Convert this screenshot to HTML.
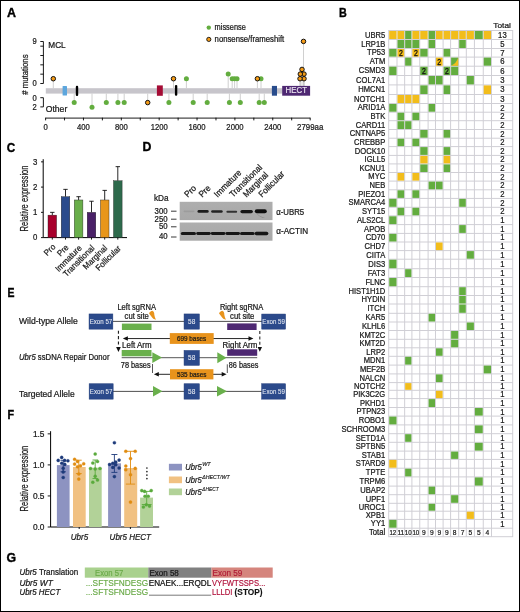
<!DOCTYPE html>
<html><head><meta charset="utf-8"><style>
html,body{margin:0;padding:0;background:#fff;}
svg{display:block;font-family:"Liberation Sans", sans-serif;will-change:transform;}
</style></head><body>
<svg width="520" height="612" viewBox="0 0 520 612">
<rect width="520" height="612" fill="#fff"/>
<text x="7.0" y="16.8" font-size="12" font-weight="bold" fill="#000" stroke="#000" stroke-width="0.35" textLength="9.0" lengthAdjust="spacingAndGlyphs">A</text>
<text x="339.0" y="16.8" font-size="12" font-weight="bold" fill="#000" stroke="#000" stroke-width="0.35" textLength="7.8" lengthAdjust="spacingAndGlyphs">B</text>
<text x="6.7" y="151.5" font-size="12" font-weight="bold" fill="#000" stroke="#000" stroke-width="0.35" textLength="8.5" lengthAdjust="spacingAndGlyphs">C</text>
<text x="142.4" y="151.3" font-size="12" font-weight="bold" fill="#000" stroke="#000" stroke-width="0.35" textLength="8.9" lengthAdjust="spacingAndGlyphs">D</text>
<text x="7.4" y="296.8" font-size="12" font-weight="bold" fill="#000" stroke="#000" stroke-width="0.35" textLength="7.0" lengthAdjust="spacingAndGlyphs">E</text>
<text x="7.4" y="418.7" font-size="12" font-weight="bold" fill="#000" stroke="#000" stroke-width="0.35" textLength="6.6" lengthAdjust="spacingAndGlyphs">F</text>
<text x="6.6" y="561.5" font-size="12" font-weight="bold" fill="#000" stroke="#000" stroke-width="0.35" textLength="9.6" lengthAdjust="spacingAndGlyphs">G</text>
<circle cx="208.8" cy="27.6" r="2.2" fill="#63AD3F"/>
<text transform="translate(214.6,30.3) scale(1,1.08)" font-size="7.6" textLength="31.2" lengthAdjust="spacingAndGlyphs" fill="#1a1a1a" stroke="#1a1a1a" stroke-width="0.22">missense</text>
<circle cx="208.8" cy="39.4" r="2.1" fill="#F49B17" stroke="#111" stroke-width="0.9"/>
<text transform="translate(214.6,41.9) scale(1,1.08)" font-size="7.6" textLength="69.6" lengthAdjust="spacingAndGlyphs" fill="#1a1a1a" stroke="#1a1a1a" stroke-width="0.22">nonsense/frameshift</text>
<line x1="43.4" y1="41.5" x2="43.4" y2="83.5" stroke="#000" stroke-width="0.9"/>
<line x1="40.3" y1="83.50" x2="43.4" y2="83.50" stroke="#000" stroke-width="0.9"/>
<line x1="40.3" y1="74.17" x2="43.4" y2="74.17" stroke="#000" stroke-width="0.9"/>
<line x1="40.3" y1="64.83" x2="43.4" y2="64.83" stroke="#000" stroke-width="0.9"/>
<line x1="40.3" y1="55.50" x2="43.4" y2="55.50" stroke="#000" stroke-width="0.9"/>
<line x1="40.3" y1="46.16" x2="43.4" y2="46.16" stroke="#000" stroke-width="0.9"/>
<line x1="40.3" y1="41.50" x2="43.4" y2="41.50" stroke="#000" stroke-width="0.9"/>
<text transform="translate(36.8,44.2) scale(1,1.08)" font-size="7.6" text-anchor="end" fill="#1a1a1a" stroke="#1a1a1a" stroke-width="0.22">9</text>
<text transform="translate(36.8,86.0) scale(1,1.08)" font-size="7.6" text-anchor="end" fill="#1a1a1a" stroke="#1a1a1a" stroke-width="0.22">0</text>
<text transform="translate(48.3,47.6) scale(1,1.08)" font-size="7.8" textLength="17.4" lengthAdjust="spacingAndGlyphs" fill="#1a1a1a" stroke="#1a1a1a" stroke-width="0.22">MCL</text>
<line x1="43.4" y1="97.7" x2="43.4" y2="106.9" stroke="#000" stroke-width="0.9"/>
<line x1="40.3" y1="97.7" x2="43.4" y2="97.7" stroke="#000" stroke-width="0.9"/>
<line x1="40.3" y1="106.9" x2="43.4" y2="106.9" stroke="#000" stroke-width="0.9"/>
<text transform="translate(36.8,100.6) scale(1,1.08)" font-size="7.6" text-anchor="end" fill="#1a1a1a" stroke="#1a1a1a" stroke-width="0.22">0</text>
<text transform="translate(36.8,109.6) scale(1,1.08)" font-size="7.6" text-anchor="end" fill="#1a1a1a" stroke="#1a1a1a" stroke-width="0.22">2</text>
<text transform="translate(45.7,112.4) scale(1,1.08)" font-size="7.8" textLength="21.6" lengthAdjust="spacingAndGlyphs" fill="#1a1a1a" stroke="#1a1a1a" stroke-width="0.22">Other</text>
<text transform="translate(28.0,74.6) rotate(-90) scale(1,1.08)" font-size="7.6" text-anchor="middle" textLength="40.4" lengthAdjust="spacingAndGlyphs" fill="#1a1a1a" stroke="#1a1a1a" stroke-width="0.22"># mutations</text>
<line x1="53.3" y1="78.73" x2="53.3" y2="88.2" stroke="#c4c4c4" stroke-width="0.8"/>
<line x1="173.5" y1="78.73" x2="173.5" y2="88.2" stroke="#c4c4c4" stroke-width="0.8"/>
<line x1="186.4" y1="78.73" x2="186.4" y2="88.2" stroke="#c4c4c4" stroke-width="0.8"/>
<line x1="228.2" y1="74.07" x2="228.2" y2="88.2" stroke="#c4c4c4" stroke-width="0.8"/>
<line x1="232.2" y1="78.73" x2="232.2" y2="88.2" stroke="#c4c4c4" stroke-width="0.8"/>
<line x1="234.6" y1="78.73" x2="234.6" y2="88.2" stroke="#c4c4c4" stroke-width="0.8"/>
<line x1="237.0" y1="78.73" x2="237.0" y2="88.2" stroke="#c4c4c4" stroke-width="0.8"/>
<line x1="261.0" y1="78.73" x2="261.0" y2="88.2" stroke="#c4c4c4" stroke-width="0.8"/>
<line x1="257.4" y1="78.73" x2="257.4" y2="88.2" stroke="#c4c4c4" stroke-width="0.8"/>
<line x1="303.5" y1="41.40" x2="303.5" y2="88.2" stroke="#c4c4c4" stroke-width="0.8"/>
<line x1="304.0" y1="74.07" x2="304.0" y2="88.2" stroke="#c4c4c4" stroke-width="0.8"/>
<line x1="304.0" y1="78.73" x2="304.0" y2="88.2" stroke="#c4c4c4" stroke-width="0.8"/>
<line x1="302.0" y1="69.40" x2="302.0" y2="88.2" stroke="#c4c4c4" stroke-width="0.8"/>
<line x1="300.3" y1="74.07" x2="300.3" y2="88.2" stroke="#c4c4c4" stroke-width="0.8"/>
<line x1="300.0" y1="78.73" x2="300.0" y2="88.2" stroke="#c4c4c4" stroke-width="0.8"/>
<line x1="74.2" y1="93.6" x2="74.2" y2="102.60" stroke="#c4c4c4" stroke-width="0.8"/>
<line x1="92.0" y1="93.6" x2="92.0" y2="107.20" stroke="#c4c4c4" stroke-width="0.8"/>
<line x1="106.3" y1="93.6" x2="106.3" y2="102.60" stroke="#c4c4c4" stroke-width="0.8"/>
<line x1="117.9" y1="93.6" x2="117.9" y2="102.60" stroke="#c4c4c4" stroke-width="0.8"/>
<line x1="124.2" y1="93.6" x2="124.2" y2="102.60" stroke="#c4c4c4" stroke-width="0.8"/>
<line x1="147.7" y1="93.6" x2="147.7" y2="102.60" stroke="#c4c4c4" stroke-width="0.8"/>
<line x1="168.9" y1="93.6" x2="168.9" y2="102.60" stroke="#c4c4c4" stroke-width="0.8"/>
<line x1="193.2" y1="93.6" x2="193.2" y2="102.60" stroke="#c4c4c4" stroke-width="0.8"/>
<line x1="207.2" y1="93.6" x2="207.2" y2="102.60" stroke="#c4c4c4" stroke-width="0.8"/>
<line x1="229.4" y1="93.6" x2="229.4" y2="102.60" stroke="#c4c4c4" stroke-width="0.8"/>
<line x1="240.3" y1="93.6" x2="240.3" y2="102.60" stroke="#c4c4c4" stroke-width="0.8"/>
<line x1="259.2" y1="93.6" x2="259.2" y2="102.60" stroke="#c4c4c4" stroke-width="0.8"/>
<line x1="264.3" y1="93.6" x2="264.3" y2="102.60" stroke="#c4c4c4" stroke-width="0.8"/>
<rect x="45.8" y="88.2" width="237" height="5.4" fill="#c7c5cb"/>
<rect x="62.6" y="86.0" width="4.4" height="9.6" fill="#5da6dd" rx="0.5"/>
<rect x="75.8" y="85.8" width="2.4" height="10.2" fill="#000" rx="1.1"/>
<rect x="156.9" y="85.4" width="5.9" height="10.4" fill="#a50c35"/>
<rect x="174.9" y="85.0" width="2.4" height="10.8" fill="#000" rx="1.1"/>
<rect x="271.9" y="85.9" width="5.1" height="9.8" fill="#284c8c"/>
<rect x="282.2" y="85.9" width="27.9" height="9.8" fill="#4e2872"/>
<text transform="translate(296.3,93.3) scale(1,1.08)" font-size="8.2" text-anchor="middle" textLength="21.4" lengthAdjust="spacingAndGlyphs" fill="#ece6f2" stroke="#ece6f2" stroke-width="0.15">HECT</text>
<circle cx="53.3" cy="78.73" r="2.25" fill="#F49B17" stroke="#111" stroke-width="1.0"/>
<circle cx="173.5" cy="78.73" r="2.25" fill="#F49B17" stroke="#111" stroke-width="1.0"/>
<circle cx="186.4" cy="78.73" r="2.5" fill="#63AD3F"/>
<circle cx="228.2" cy="74.07" r="2.5" fill="#63AD3F"/>
<circle cx="232.2" cy="78.73" r="2.5" fill="#63AD3F"/>
<circle cx="234.6" cy="78.73" r="2.5" fill="#63AD3F"/>
<circle cx="237.0" cy="78.73" r="2.5" fill="#63AD3F"/>
<circle cx="261.0" cy="78.73" r="2.5" fill="#63AD3F"/>
<circle cx="257.4" cy="78.73" r="2.25" fill="#F49B17" stroke="#111" stroke-width="1.0"/>
<circle cx="303.5" cy="41.40" r="2.25" fill="#F49B17" stroke="#111" stroke-width="1.0"/>
<circle cx="304.0" cy="74.07" r="2.25" fill="#F49B17" stroke="#111" stroke-width="1.0"/>
<circle cx="304.0" cy="78.73" r="2.25" fill="#F49B17" stroke="#111" stroke-width="1.0"/>
<circle cx="302.0" cy="69.40" r="2.25" fill="#F49B17" stroke="#111" stroke-width="1.0"/>
<circle cx="300.3" cy="74.07" r="2.25" fill="#F49B17" stroke="#111" stroke-width="1.0"/>
<circle cx="300.0" cy="78.73" r="2.25" fill="#F49B17" stroke="#111" stroke-width="1.0"/>
<circle cx="74.2" cy="102.60" r="2.5" fill="#63AD3F"/>
<circle cx="92.0" cy="107.20" r="2.5" fill="#63AD3F"/>
<circle cx="106.3" cy="102.60" r="2.5" fill="#63AD3F"/>
<circle cx="117.9" cy="102.60" r="2.5" fill="#63AD3F"/>
<circle cx="124.2" cy="102.60" r="2.5" fill="#63AD3F"/>
<circle cx="147.7" cy="102.60" r="2.25" fill="#F49B17" stroke="#111" stroke-width="1.0"/>
<circle cx="168.9" cy="102.60" r="2.5" fill="#63AD3F"/>
<circle cx="193.2" cy="102.60" r="2.5" fill="#63AD3F"/>
<circle cx="207.2" cy="102.60" r="2.5" fill="#63AD3F"/>
<circle cx="229.4" cy="102.60" r="2.5" fill="#63AD3F"/>
<circle cx="240.3" cy="102.60" r="2.5" fill="#63AD3F"/>
<circle cx="259.2" cy="102.60" r="2.5" fill="#63AD3F"/>
<circle cx="264.3" cy="102.60" r="2.5" fill="#63AD3F"/>
<line x1="45.6" y1="118.1" x2="310.2" y2="118.1" stroke="#000" stroke-width="0.9"/>
<line x1="45.60" y1="117.7" x2="45.60" y2="120.4" stroke="#000" stroke-width="0.9"/>
<line x1="64.53" y1="117.7" x2="64.53" y2="120.4" stroke="#000" stroke-width="0.9"/>
<line x1="83.46" y1="117.7" x2="83.46" y2="120.4" stroke="#000" stroke-width="0.9"/>
<line x1="102.39" y1="117.7" x2="102.39" y2="120.4" stroke="#000" stroke-width="0.9"/>
<line x1="121.32" y1="117.7" x2="121.32" y2="120.4" stroke="#000" stroke-width="0.9"/>
<line x1="140.25" y1="117.7" x2="140.25" y2="120.4" stroke="#000" stroke-width="0.9"/>
<line x1="159.18" y1="117.7" x2="159.18" y2="120.4" stroke="#000" stroke-width="0.9"/>
<line x1="178.11" y1="117.7" x2="178.11" y2="120.4" stroke="#000" stroke-width="0.9"/>
<line x1="197.04" y1="117.7" x2="197.04" y2="120.4" stroke="#000" stroke-width="0.9"/>
<line x1="215.97" y1="117.7" x2="215.97" y2="120.4" stroke="#000" stroke-width="0.9"/>
<line x1="234.90" y1="117.7" x2="234.90" y2="120.4" stroke="#000" stroke-width="0.9"/>
<line x1="253.83" y1="117.7" x2="253.83" y2="120.4" stroke="#000" stroke-width="0.9"/>
<line x1="272.76" y1="117.7" x2="272.76" y2="120.4" stroke="#000" stroke-width="0.9"/>
<line x1="291.69" y1="117.7" x2="291.69" y2="120.4" stroke="#000" stroke-width="0.9"/>
<line x1="310.2" y1="117.7" x2="310.2" y2="120.4" stroke="#000" stroke-width="0.9"/>
<text transform="translate(45.60,130.3) scale(1,1.08)" font-size="7.7" text-anchor="middle" fill="#1a1a1a" stroke="#1a1a1a" stroke-width="0.22">0</text>
<text transform="translate(83.46,130.3) scale(1,1.08)" font-size="7.7" text-anchor="middle" fill="#1a1a1a" stroke="#1a1a1a" stroke-width="0.22">400</text>
<text transform="translate(121.32,130.3) scale(1,1.08)" font-size="7.7" text-anchor="middle" fill="#1a1a1a" stroke="#1a1a1a" stroke-width="0.22">800</text>
<text transform="translate(159.18,130.3) scale(1,1.08)" font-size="7.7" text-anchor="middle" fill="#1a1a1a" stroke="#1a1a1a" stroke-width="0.22">1200</text>
<text transform="translate(197.04,130.3) scale(1,1.08)" font-size="7.7" text-anchor="middle" fill="#1a1a1a" stroke="#1a1a1a" stroke-width="0.22">1600</text>
<text transform="translate(234.90,130.3) scale(1,1.08)" font-size="7.7" text-anchor="middle" fill="#1a1a1a" stroke="#1a1a1a" stroke-width="0.22">2000</text>
<text transform="translate(272.76,130.3) scale(1,1.08)" font-size="7.7" text-anchor="middle" fill="#1a1a1a" stroke="#1a1a1a" stroke-width="0.22">2400</text>
<text transform="translate(310.2,130.3) scale(1,1.08)" font-size="7.7" text-anchor="middle" textLength="26.2" lengthAdjust="spacingAndGlyphs" fill="#1a1a1a" stroke="#1a1a1a" stroke-width="0.22">2799aa</text>
<rect x="388.2" y="30.0" width="125.00" height="507.20" fill="#d0cfd5"/>
<rect x="389.20" y="31.00" width="7.30" height="8.00" fill="#fff"/>
<rect x="397.50" y="31.00" width="6.65" height="8.00" fill="#fff"/>
<rect x="405.15" y="31.00" width="6.25" height="8.00" fill="#fff"/>
<rect x="412.40" y="31.00" width="6.85" height="8.00" fill="#fff"/>
<rect x="420.25" y="31.00" width="7.35" height="8.00" fill="#fff"/>
<rect x="428.60" y="31.00" width="6.40" height="8.00" fill="#fff"/>
<rect x="436.00" y="31.00" width="6.60" height="8.00" fill="#fff"/>
<rect x="443.60" y="31.00" width="6.50" height="8.00" fill="#fff"/>
<rect x="451.10" y="31.00" width="7.10" height="8.00" fill="#fff"/>
<rect x="459.20" y="31.00" width="6.60" height="8.00" fill="#fff"/>
<rect x="466.80" y="31.00" width="7.10" height="8.00" fill="#fff"/>
<rect x="474.90" y="31.00" width="7.85" height="8.00" fill="#fff"/>
<rect x="483.75" y="31.00" width="7.25" height="8.00" fill="#fff"/>
<rect x="492.00" y="31.00" width="20.20" height="8.00" fill="#fff"/>
<rect x="389.20" y="40.00" width="7.30" height="8.00" fill="#fff"/>
<rect x="397.50" y="40.00" width="6.65" height="8.00" fill="#fff"/>
<rect x="405.15" y="40.00" width="6.25" height="8.00" fill="#fff"/>
<rect x="412.40" y="40.00" width="6.85" height="8.00" fill="#fff"/>
<rect x="420.25" y="40.00" width="7.35" height="8.00" fill="#fff"/>
<rect x="428.60" y="40.00" width="6.40" height="8.00" fill="#fff"/>
<rect x="436.00" y="40.00" width="6.60" height="8.00" fill="#fff"/>
<rect x="443.60" y="40.00" width="6.50" height="8.00" fill="#fff"/>
<rect x="451.10" y="40.00" width="7.10" height="8.00" fill="#fff"/>
<rect x="459.20" y="40.00" width="6.60" height="8.00" fill="#fff"/>
<rect x="466.80" y="40.00" width="7.10" height="8.00" fill="#fff"/>
<rect x="474.90" y="40.00" width="7.85" height="8.00" fill="#fff"/>
<rect x="483.75" y="40.00" width="7.25" height="8.00" fill="#fff"/>
<rect x="492.00" y="40.00" width="20.20" height="8.00" fill="#fff"/>
<rect x="389.20" y="49.00" width="7.30" height="7.60" fill="#fff"/>
<rect x="397.50" y="49.00" width="6.65" height="7.60" fill="#fff"/>
<rect x="405.15" y="49.00" width="6.25" height="7.60" fill="#fff"/>
<rect x="412.40" y="49.00" width="6.85" height="7.60" fill="#fff"/>
<rect x="420.25" y="49.00" width="7.35" height="7.60" fill="#fff"/>
<rect x="428.60" y="49.00" width="6.40" height="7.60" fill="#fff"/>
<rect x="436.00" y="49.00" width="6.60" height="7.60" fill="#fff"/>
<rect x="443.60" y="49.00" width="6.50" height="7.60" fill="#fff"/>
<rect x="451.10" y="49.00" width="7.10" height="7.60" fill="#fff"/>
<rect x="459.20" y="49.00" width="6.60" height="7.60" fill="#fff"/>
<rect x="466.80" y="49.00" width="7.10" height="7.60" fill="#fff"/>
<rect x="474.90" y="49.00" width="7.85" height="7.60" fill="#fff"/>
<rect x="483.75" y="49.00" width="7.25" height="7.60" fill="#fff"/>
<rect x="492.00" y="49.00" width="20.20" height="7.60" fill="#fff"/>
<rect x="389.20" y="57.60" width="7.30" height="8.10" fill="#fff"/>
<rect x="397.50" y="57.60" width="6.65" height="8.10" fill="#fff"/>
<rect x="405.15" y="57.60" width="6.25" height="8.10" fill="#fff"/>
<rect x="412.40" y="57.60" width="6.85" height="8.10" fill="#fff"/>
<rect x="420.25" y="57.60" width="7.35" height="8.10" fill="#fff"/>
<rect x="428.60" y="57.60" width="6.40" height="8.10" fill="#fff"/>
<rect x="436.00" y="57.60" width="6.60" height="8.10" fill="#fff"/>
<rect x="443.60" y="57.60" width="6.50" height="8.10" fill="#fff"/>
<rect x="451.10" y="57.60" width="7.10" height="8.10" fill="#fff"/>
<rect x="459.20" y="57.60" width="6.60" height="8.10" fill="#fff"/>
<rect x="466.80" y="57.60" width="7.10" height="8.10" fill="#fff"/>
<rect x="474.90" y="57.60" width="7.85" height="8.10" fill="#fff"/>
<rect x="483.75" y="57.60" width="7.25" height="8.10" fill="#fff"/>
<rect x="492.00" y="57.60" width="20.20" height="8.10" fill="#fff"/>
<rect x="389.20" y="66.70" width="7.30" height="8.30" fill="#fff"/>
<rect x="397.50" y="66.70" width="6.65" height="8.30" fill="#fff"/>
<rect x="405.15" y="66.70" width="6.25" height="8.30" fill="#fff"/>
<rect x="412.40" y="66.70" width="6.85" height="8.30" fill="#fff"/>
<rect x="420.25" y="66.70" width="7.35" height="8.30" fill="#fff"/>
<rect x="428.60" y="66.70" width="6.40" height="8.30" fill="#fff"/>
<rect x="436.00" y="66.70" width="6.60" height="8.30" fill="#fff"/>
<rect x="443.60" y="66.70" width="6.50" height="8.30" fill="#fff"/>
<rect x="451.10" y="66.70" width="7.10" height="8.30" fill="#fff"/>
<rect x="459.20" y="66.70" width="6.60" height="8.30" fill="#fff"/>
<rect x="466.80" y="66.70" width="7.10" height="8.30" fill="#fff"/>
<rect x="474.90" y="66.70" width="7.85" height="8.30" fill="#fff"/>
<rect x="483.75" y="66.70" width="7.25" height="8.30" fill="#fff"/>
<rect x="492.00" y="66.70" width="20.20" height="8.30" fill="#fff"/>
<rect x="389.20" y="76.00" width="7.30" height="8.40" fill="#fff"/>
<rect x="397.50" y="76.00" width="6.65" height="8.40" fill="#fff"/>
<rect x="405.15" y="76.00" width="6.25" height="8.40" fill="#fff"/>
<rect x="412.40" y="76.00" width="6.85" height="8.40" fill="#fff"/>
<rect x="420.25" y="76.00" width="7.35" height="8.40" fill="#fff"/>
<rect x="428.60" y="76.00" width="6.40" height="8.40" fill="#fff"/>
<rect x="436.00" y="76.00" width="6.60" height="8.40" fill="#fff"/>
<rect x="443.60" y="76.00" width="6.50" height="8.40" fill="#fff"/>
<rect x="451.10" y="76.00" width="7.10" height="8.40" fill="#fff"/>
<rect x="459.20" y="76.00" width="6.60" height="8.40" fill="#fff"/>
<rect x="466.80" y="76.00" width="7.10" height="8.40" fill="#fff"/>
<rect x="474.90" y="76.00" width="7.85" height="8.40" fill="#fff"/>
<rect x="483.75" y="76.00" width="7.25" height="8.40" fill="#fff"/>
<rect x="492.00" y="76.00" width="20.20" height="8.40" fill="#fff"/>
<rect x="389.20" y="85.40" width="7.30" height="8.60" fill="#fff"/>
<rect x="397.50" y="85.40" width="6.65" height="8.60" fill="#fff"/>
<rect x="405.15" y="85.40" width="6.25" height="8.60" fill="#fff"/>
<rect x="412.40" y="85.40" width="6.85" height="8.60" fill="#fff"/>
<rect x="420.25" y="85.40" width="7.35" height="8.60" fill="#fff"/>
<rect x="428.60" y="85.40" width="6.40" height="8.60" fill="#fff"/>
<rect x="436.00" y="85.40" width="6.60" height="8.60" fill="#fff"/>
<rect x="443.60" y="85.40" width="6.50" height="8.60" fill="#fff"/>
<rect x="451.10" y="85.40" width="7.10" height="8.60" fill="#fff"/>
<rect x="459.20" y="85.40" width="6.60" height="8.60" fill="#fff"/>
<rect x="466.80" y="85.40" width="7.10" height="8.60" fill="#fff"/>
<rect x="474.90" y="85.40" width="7.85" height="8.60" fill="#fff"/>
<rect x="483.75" y="85.40" width="7.25" height="8.60" fill="#fff"/>
<rect x="492.00" y="85.40" width="20.20" height="8.60" fill="#fff"/>
<rect x="389.20" y="95.00" width="7.30" height="8.00" fill="#fff"/>
<rect x="397.50" y="95.00" width="6.65" height="8.00" fill="#fff"/>
<rect x="405.15" y="95.00" width="6.25" height="8.00" fill="#fff"/>
<rect x="412.40" y="95.00" width="6.85" height="8.00" fill="#fff"/>
<rect x="420.25" y="95.00" width="7.35" height="8.00" fill="#fff"/>
<rect x="428.60" y="95.00" width="6.40" height="8.00" fill="#fff"/>
<rect x="436.00" y="95.00" width="6.60" height="8.00" fill="#fff"/>
<rect x="443.60" y="95.00" width="6.50" height="8.00" fill="#fff"/>
<rect x="451.10" y="95.00" width="7.10" height="8.00" fill="#fff"/>
<rect x="459.20" y="95.00" width="6.60" height="8.00" fill="#fff"/>
<rect x="466.80" y="95.00" width="7.10" height="8.00" fill="#fff"/>
<rect x="474.90" y="95.00" width="7.85" height="8.00" fill="#fff"/>
<rect x="483.75" y="95.00" width="7.25" height="8.00" fill="#fff"/>
<rect x="492.00" y="95.00" width="20.20" height="8.00" fill="#fff"/>
<rect x="389.20" y="104.00" width="7.30" height="7.70" fill="#fff"/>
<rect x="397.50" y="104.00" width="6.65" height="7.70" fill="#fff"/>
<rect x="405.15" y="104.00" width="6.25" height="7.70" fill="#fff"/>
<rect x="412.40" y="104.00" width="6.85" height="7.70" fill="#fff"/>
<rect x="420.25" y="104.00" width="7.35" height="7.70" fill="#fff"/>
<rect x="428.60" y="104.00" width="6.40" height="7.70" fill="#fff"/>
<rect x="436.00" y="104.00" width="6.60" height="7.70" fill="#fff"/>
<rect x="443.60" y="104.00" width="6.50" height="7.70" fill="#fff"/>
<rect x="451.10" y="104.00" width="7.10" height="7.70" fill="#fff"/>
<rect x="459.20" y="104.00" width="6.60" height="7.70" fill="#fff"/>
<rect x="466.80" y="104.00" width="7.10" height="7.70" fill="#fff"/>
<rect x="474.90" y="104.00" width="7.85" height="7.70" fill="#fff"/>
<rect x="483.75" y="104.00" width="7.25" height="7.70" fill="#fff"/>
<rect x="492.00" y="104.00" width="20.20" height="7.70" fill="#fff"/>
<rect x="389.20" y="112.70" width="7.30" height="7.50" fill="#fff"/>
<rect x="397.50" y="112.70" width="6.65" height="7.50" fill="#fff"/>
<rect x="405.15" y="112.70" width="6.25" height="7.50" fill="#fff"/>
<rect x="412.40" y="112.70" width="6.85" height="7.50" fill="#fff"/>
<rect x="420.25" y="112.70" width="7.35" height="7.50" fill="#fff"/>
<rect x="428.60" y="112.70" width="6.40" height="7.50" fill="#fff"/>
<rect x="436.00" y="112.70" width="6.60" height="7.50" fill="#fff"/>
<rect x="443.60" y="112.70" width="6.50" height="7.50" fill="#fff"/>
<rect x="451.10" y="112.70" width="7.10" height="7.50" fill="#fff"/>
<rect x="459.20" y="112.70" width="6.60" height="7.50" fill="#fff"/>
<rect x="466.80" y="112.70" width="7.10" height="7.50" fill="#fff"/>
<rect x="474.90" y="112.70" width="7.85" height="7.50" fill="#fff"/>
<rect x="483.75" y="112.70" width="7.25" height="7.50" fill="#fff"/>
<rect x="492.00" y="112.70" width="20.20" height="7.50" fill="#fff"/>
<rect x="389.20" y="121.20" width="7.30" height="7.80" fill="#fff"/>
<rect x="397.50" y="121.20" width="6.65" height="7.80" fill="#fff"/>
<rect x="405.15" y="121.20" width="6.25" height="7.80" fill="#fff"/>
<rect x="412.40" y="121.20" width="6.85" height="7.80" fill="#fff"/>
<rect x="420.25" y="121.20" width="7.35" height="7.80" fill="#fff"/>
<rect x="428.60" y="121.20" width="6.40" height="7.80" fill="#fff"/>
<rect x="436.00" y="121.20" width="6.60" height="7.80" fill="#fff"/>
<rect x="443.60" y="121.20" width="6.50" height="7.80" fill="#fff"/>
<rect x="451.10" y="121.20" width="7.10" height="7.80" fill="#fff"/>
<rect x="459.20" y="121.20" width="6.60" height="7.80" fill="#fff"/>
<rect x="466.80" y="121.20" width="7.10" height="7.80" fill="#fff"/>
<rect x="474.90" y="121.20" width="7.85" height="7.80" fill="#fff"/>
<rect x="483.75" y="121.20" width="7.25" height="7.80" fill="#fff"/>
<rect x="492.00" y="121.20" width="20.20" height="7.80" fill="#fff"/>
<rect x="389.20" y="130.00" width="7.30" height="7.70" fill="#fff"/>
<rect x="397.50" y="130.00" width="6.65" height="7.70" fill="#fff"/>
<rect x="405.15" y="130.00" width="6.25" height="7.70" fill="#fff"/>
<rect x="412.40" y="130.00" width="6.85" height="7.70" fill="#fff"/>
<rect x="420.25" y="130.00" width="7.35" height="7.70" fill="#fff"/>
<rect x="428.60" y="130.00" width="6.40" height="7.70" fill="#fff"/>
<rect x="436.00" y="130.00" width="6.60" height="7.70" fill="#fff"/>
<rect x="443.60" y="130.00" width="6.50" height="7.70" fill="#fff"/>
<rect x="451.10" y="130.00" width="7.10" height="7.70" fill="#fff"/>
<rect x="459.20" y="130.00" width="6.60" height="7.70" fill="#fff"/>
<rect x="466.80" y="130.00" width="7.10" height="7.70" fill="#fff"/>
<rect x="474.90" y="130.00" width="7.85" height="7.70" fill="#fff"/>
<rect x="483.75" y="130.00" width="7.25" height="7.70" fill="#fff"/>
<rect x="492.00" y="130.00" width="20.20" height="7.70" fill="#fff"/>
<rect x="389.20" y="138.70" width="7.30" height="7.40" fill="#fff"/>
<rect x="397.50" y="138.70" width="6.65" height="7.40" fill="#fff"/>
<rect x="405.15" y="138.70" width="6.25" height="7.40" fill="#fff"/>
<rect x="412.40" y="138.70" width="6.85" height="7.40" fill="#fff"/>
<rect x="420.25" y="138.70" width="7.35" height="7.40" fill="#fff"/>
<rect x="428.60" y="138.70" width="6.40" height="7.40" fill="#fff"/>
<rect x="436.00" y="138.70" width="6.60" height="7.40" fill="#fff"/>
<rect x="443.60" y="138.70" width="6.50" height="7.40" fill="#fff"/>
<rect x="451.10" y="138.70" width="7.10" height="7.40" fill="#fff"/>
<rect x="459.20" y="138.70" width="6.60" height="7.40" fill="#fff"/>
<rect x="466.80" y="138.70" width="7.10" height="7.40" fill="#fff"/>
<rect x="474.90" y="138.70" width="7.85" height="7.40" fill="#fff"/>
<rect x="483.75" y="138.70" width="7.25" height="7.40" fill="#fff"/>
<rect x="492.00" y="138.70" width="20.20" height="7.40" fill="#fff"/>
<rect x="389.20" y="147.10" width="7.30" height="7.80" fill="#fff"/>
<rect x="397.50" y="147.10" width="6.65" height="7.80" fill="#fff"/>
<rect x="405.15" y="147.10" width="6.25" height="7.80" fill="#fff"/>
<rect x="412.40" y="147.10" width="6.85" height="7.80" fill="#fff"/>
<rect x="420.25" y="147.10" width="7.35" height="7.80" fill="#fff"/>
<rect x="428.60" y="147.10" width="6.40" height="7.80" fill="#fff"/>
<rect x="436.00" y="147.10" width="6.60" height="7.80" fill="#fff"/>
<rect x="443.60" y="147.10" width="6.50" height="7.80" fill="#fff"/>
<rect x="451.10" y="147.10" width="7.10" height="7.80" fill="#fff"/>
<rect x="459.20" y="147.10" width="6.60" height="7.80" fill="#fff"/>
<rect x="466.80" y="147.10" width="7.10" height="7.80" fill="#fff"/>
<rect x="474.90" y="147.10" width="7.85" height="7.80" fill="#fff"/>
<rect x="483.75" y="147.10" width="7.25" height="7.80" fill="#fff"/>
<rect x="492.00" y="147.10" width="20.20" height="7.80" fill="#fff"/>
<rect x="389.20" y="155.90" width="7.30" height="7.50" fill="#fff"/>
<rect x="397.50" y="155.90" width="6.65" height="7.50" fill="#fff"/>
<rect x="405.15" y="155.90" width="6.25" height="7.50" fill="#fff"/>
<rect x="412.40" y="155.90" width="6.85" height="7.50" fill="#fff"/>
<rect x="420.25" y="155.90" width="7.35" height="7.50" fill="#fff"/>
<rect x="428.60" y="155.90" width="6.40" height="7.50" fill="#fff"/>
<rect x="436.00" y="155.90" width="6.60" height="7.50" fill="#fff"/>
<rect x="443.60" y="155.90" width="6.50" height="7.50" fill="#fff"/>
<rect x="451.10" y="155.90" width="7.10" height="7.50" fill="#fff"/>
<rect x="459.20" y="155.90" width="6.60" height="7.50" fill="#fff"/>
<rect x="466.80" y="155.90" width="7.10" height="7.50" fill="#fff"/>
<rect x="474.90" y="155.90" width="7.85" height="7.50" fill="#fff"/>
<rect x="483.75" y="155.90" width="7.25" height="7.50" fill="#fff"/>
<rect x="492.00" y="155.90" width="20.20" height="7.50" fill="#fff"/>
<rect x="389.20" y="164.40" width="7.30" height="7.60" fill="#fff"/>
<rect x="397.50" y="164.40" width="6.65" height="7.60" fill="#fff"/>
<rect x="405.15" y="164.40" width="6.25" height="7.60" fill="#fff"/>
<rect x="412.40" y="164.40" width="6.85" height="7.60" fill="#fff"/>
<rect x="420.25" y="164.40" width="7.35" height="7.60" fill="#fff"/>
<rect x="428.60" y="164.40" width="6.40" height="7.60" fill="#fff"/>
<rect x="436.00" y="164.40" width="6.60" height="7.60" fill="#fff"/>
<rect x="443.60" y="164.40" width="6.50" height="7.60" fill="#fff"/>
<rect x="451.10" y="164.40" width="7.10" height="7.60" fill="#fff"/>
<rect x="459.20" y="164.40" width="6.60" height="7.60" fill="#fff"/>
<rect x="466.80" y="164.40" width="7.10" height="7.60" fill="#fff"/>
<rect x="474.90" y="164.40" width="7.85" height="7.60" fill="#fff"/>
<rect x="483.75" y="164.40" width="7.25" height="7.60" fill="#fff"/>
<rect x="492.00" y="164.40" width="20.20" height="7.60" fill="#fff"/>
<rect x="389.20" y="173.00" width="7.30" height="7.60" fill="#fff"/>
<rect x="397.50" y="173.00" width="6.65" height="7.60" fill="#fff"/>
<rect x="405.15" y="173.00" width="6.25" height="7.60" fill="#fff"/>
<rect x="412.40" y="173.00" width="6.85" height="7.60" fill="#fff"/>
<rect x="420.25" y="173.00" width="7.35" height="7.60" fill="#fff"/>
<rect x="428.60" y="173.00" width="6.40" height="7.60" fill="#fff"/>
<rect x="436.00" y="173.00" width="6.60" height="7.60" fill="#fff"/>
<rect x="443.60" y="173.00" width="6.50" height="7.60" fill="#fff"/>
<rect x="451.10" y="173.00" width="7.10" height="7.60" fill="#fff"/>
<rect x="459.20" y="173.00" width="6.60" height="7.60" fill="#fff"/>
<rect x="466.80" y="173.00" width="7.10" height="7.60" fill="#fff"/>
<rect x="474.90" y="173.00" width="7.85" height="7.60" fill="#fff"/>
<rect x="483.75" y="173.00" width="7.25" height="7.60" fill="#fff"/>
<rect x="492.00" y="173.00" width="20.20" height="7.60" fill="#fff"/>
<rect x="389.20" y="181.60" width="7.30" height="7.70" fill="#fff"/>
<rect x="397.50" y="181.60" width="6.65" height="7.70" fill="#fff"/>
<rect x="405.15" y="181.60" width="6.25" height="7.70" fill="#fff"/>
<rect x="412.40" y="181.60" width="6.85" height="7.70" fill="#fff"/>
<rect x="420.25" y="181.60" width="7.35" height="7.70" fill="#fff"/>
<rect x="428.60" y="181.60" width="6.40" height="7.70" fill="#fff"/>
<rect x="436.00" y="181.60" width="6.60" height="7.70" fill="#fff"/>
<rect x="443.60" y="181.60" width="6.50" height="7.70" fill="#fff"/>
<rect x="451.10" y="181.60" width="7.10" height="7.70" fill="#fff"/>
<rect x="459.20" y="181.60" width="6.60" height="7.70" fill="#fff"/>
<rect x="466.80" y="181.60" width="7.10" height="7.70" fill="#fff"/>
<rect x="474.90" y="181.60" width="7.85" height="7.70" fill="#fff"/>
<rect x="483.75" y="181.60" width="7.25" height="7.70" fill="#fff"/>
<rect x="492.00" y="181.60" width="20.20" height="7.70" fill="#fff"/>
<rect x="389.20" y="190.30" width="7.30" height="7.60" fill="#fff"/>
<rect x="397.50" y="190.30" width="6.65" height="7.60" fill="#fff"/>
<rect x="405.15" y="190.30" width="6.25" height="7.60" fill="#fff"/>
<rect x="412.40" y="190.30" width="6.85" height="7.60" fill="#fff"/>
<rect x="420.25" y="190.30" width="7.35" height="7.60" fill="#fff"/>
<rect x="428.60" y="190.30" width="6.40" height="7.60" fill="#fff"/>
<rect x="436.00" y="190.30" width="6.60" height="7.60" fill="#fff"/>
<rect x="443.60" y="190.30" width="6.50" height="7.60" fill="#fff"/>
<rect x="451.10" y="190.30" width="7.10" height="7.60" fill="#fff"/>
<rect x="459.20" y="190.30" width="6.60" height="7.60" fill="#fff"/>
<rect x="466.80" y="190.30" width="7.10" height="7.60" fill="#fff"/>
<rect x="474.90" y="190.30" width="7.85" height="7.60" fill="#fff"/>
<rect x="483.75" y="190.30" width="7.25" height="7.60" fill="#fff"/>
<rect x="492.00" y="190.30" width="20.20" height="7.60" fill="#fff"/>
<rect x="389.20" y="198.90" width="7.30" height="7.90" fill="#fff"/>
<rect x="397.50" y="198.90" width="6.65" height="7.90" fill="#fff"/>
<rect x="405.15" y="198.90" width="6.25" height="7.90" fill="#fff"/>
<rect x="412.40" y="198.90" width="6.85" height="7.90" fill="#fff"/>
<rect x="420.25" y="198.90" width="7.35" height="7.90" fill="#fff"/>
<rect x="428.60" y="198.90" width="6.40" height="7.90" fill="#fff"/>
<rect x="436.00" y="198.90" width="6.60" height="7.90" fill="#fff"/>
<rect x="443.60" y="198.90" width="6.50" height="7.90" fill="#fff"/>
<rect x="451.10" y="198.90" width="7.10" height="7.90" fill="#fff"/>
<rect x="459.20" y="198.90" width="6.60" height="7.90" fill="#fff"/>
<rect x="466.80" y="198.90" width="7.10" height="7.90" fill="#fff"/>
<rect x="474.90" y="198.90" width="7.85" height="7.90" fill="#fff"/>
<rect x="483.75" y="198.90" width="7.25" height="7.90" fill="#fff"/>
<rect x="492.00" y="198.90" width="20.20" height="7.90" fill="#fff"/>
<rect x="389.20" y="207.80" width="7.30" height="7.50" fill="#fff"/>
<rect x="397.50" y="207.80" width="6.65" height="7.50" fill="#fff"/>
<rect x="405.15" y="207.80" width="6.25" height="7.50" fill="#fff"/>
<rect x="412.40" y="207.80" width="6.85" height="7.50" fill="#fff"/>
<rect x="420.25" y="207.80" width="7.35" height="7.50" fill="#fff"/>
<rect x="428.60" y="207.80" width="6.40" height="7.50" fill="#fff"/>
<rect x="436.00" y="207.80" width="6.60" height="7.50" fill="#fff"/>
<rect x="443.60" y="207.80" width="6.50" height="7.50" fill="#fff"/>
<rect x="451.10" y="207.80" width="7.10" height="7.50" fill="#fff"/>
<rect x="459.20" y="207.80" width="6.60" height="7.50" fill="#fff"/>
<rect x="466.80" y="207.80" width="7.10" height="7.50" fill="#fff"/>
<rect x="474.90" y="207.80" width="7.85" height="7.50" fill="#fff"/>
<rect x="483.75" y="207.80" width="7.25" height="7.50" fill="#fff"/>
<rect x="492.00" y="207.80" width="20.20" height="7.50" fill="#fff"/>
<rect x="389.20" y="216.30" width="7.30" height="7.80" fill="#fff"/>
<rect x="397.50" y="216.30" width="6.65" height="7.80" fill="#fff"/>
<rect x="405.15" y="216.30" width="6.25" height="7.80" fill="#fff"/>
<rect x="412.40" y="216.30" width="6.85" height="7.80" fill="#fff"/>
<rect x="420.25" y="216.30" width="7.35" height="7.80" fill="#fff"/>
<rect x="428.60" y="216.30" width="6.40" height="7.80" fill="#fff"/>
<rect x="436.00" y="216.30" width="6.60" height="7.80" fill="#fff"/>
<rect x="443.60" y="216.30" width="6.50" height="7.80" fill="#fff"/>
<rect x="451.10" y="216.30" width="7.10" height="7.80" fill="#fff"/>
<rect x="459.20" y="216.30" width="6.60" height="7.80" fill="#fff"/>
<rect x="466.80" y="216.30" width="7.10" height="7.80" fill="#fff"/>
<rect x="474.90" y="216.30" width="7.85" height="7.80" fill="#fff"/>
<rect x="483.75" y="216.30" width="7.25" height="7.80" fill="#fff"/>
<rect x="492.00" y="216.30" width="20.20" height="7.80" fill="#fff"/>
<rect x="389.20" y="225.10" width="7.30" height="7.80" fill="#fff"/>
<rect x="397.50" y="225.10" width="6.65" height="7.80" fill="#fff"/>
<rect x="405.15" y="225.10" width="6.25" height="7.80" fill="#fff"/>
<rect x="412.40" y="225.10" width="6.85" height="7.80" fill="#fff"/>
<rect x="420.25" y="225.10" width="7.35" height="7.80" fill="#fff"/>
<rect x="428.60" y="225.10" width="6.40" height="7.80" fill="#fff"/>
<rect x="436.00" y="225.10" width="6.60" height="7.80" fill="#fff"/>
<rect x="443.60" y="225.10" width="6.50" height="7.80" fill="#fff"/>
<rect x="451.10" y="225.10" width="7.10" height="7.80" fill="#fff"/>
<rect x="459.20" y="225.10" width="6.60" height="7.80" fill="#fff"/>
<rect x="466.80" y="225.10" width="7.10" height="7.80" fill="#fff"/>
<rect x="474.90" y="225.10" width="7.85" height="7.80" fill="#fff"/>
<rect x="483.75" y="225.10" width="7.25" height="7.80" fill="#fff"/>
<rect x="492.00" y="225.10" width="20.20" height="7.80" fill="#fff"/>
<rect x="389.20" y="233.90" width="7.30" height="7.60" fill="#fff"/>
<rect x="397.50" y="233.90" width="6.65" height="7.60" fill="#fff"/>
<rect x="405.15" y="233.90" width="6.25" height="7.60" fill="#fff"/>
<rect x="412.40" y="233.90" width="6.85" height="7.60" fill="#fff"/>
<rect x="420.25" y="233.90" width="7.35" height="7.60" fill="#fff"/>
<rect x="428.60" y="233.90" width="6.40" height="7.60" fill="#fff"/>
<rect x="436.00" y="233.90" width="6.60" height="7.60" fill="#fff"/>
<rect x="443.60" y="233.90" width="6.50" height="7.60" fill="#fff"/>
<rect x="451.10" y="233.90" width="7.10" height="7.60" fill="#fff"/>
<rect x="459.20" y="233.90" width="6.60" height="7.60" fill="#fff"/>
<rect x="466.80" y="233.90" width="7.10" height="7.60" fill="#fff"/>
<rect x="474.90" y="233.90" width="7.85" height="7.60" fill="#fff"/>
<rect x="483.75" y="233.90" width="7.25" height="7.60" fill="#fff"/>
<rect x="492.00" y="233.90" width="20.20" height="7.60" fill="#fff"/>
<rect x="389.20" y="242.50" width="7.30" height="7.60" fill="#fff"/>
<rect x="397.50" y="242.50" width="6.65" height="7.60" fill="#fff"/>
<rect x="405.15" y="242.50" width="6.25" height="7.60" fill="#fff"/>
<rect x="412.40" y="242.50" width="6.85" height="7.60" fill="#fff"/>
<rect x="420.25" y="242.50" width="7.35" height="7.60" fill="#fff"/>
<rect x="428.60" y="242.50" width="6.40" height="7.60" fill="#fff"/>
<rect x="436.00" y="242.50" width="6.60" height="7.60" fill="#fff"/>
<rect x="443.60" y="242.50" width="6.50" height="7.60" fill="#fff"/>
<rect x="451.10" y="242.50" width="7.10" height="7.60" fill="#fff"/>
<rect x="459.20" y="242.50" width="6.60" height="7.60" fill="#fff"/>
<rect x="466.80" y="242.50" width="7.10" height="7.60" fill="#fff"/>
<rect x="474.90" y="242.50" width="7.85" height="7.60" fill="#fff"/>
<rect x="483.75" y="242.50" width="7.25" height="7.60" fill="#fff"/>
<rect x="492.00" y="242.50" width="20.20" height="7.60" fill="#fff"/>
<rect x="389.20" y="251.10" width="7.30" height="7.60" fill="#fff"/>
<rect x="397.50" y="251.10" width="6.65" height="7.60" fill="#fff"/>
<rect x="405.15" y="251.10" width="6.25" height="7.60" fill="#fff"/>
<rect x="412.40" y="251.10" width="6.85" height="7.60" fill="#fff"/>
<rect x="420.25" y="251.10" width="7.35" height="7.60" fill="#fff"/>
<rect x="428.60" y="251.10" width="6.40" height="7.60" fill="#fff"/>
<rect x="436.00" y="251.10" width="6.60" height="7.60" fill="#fff"/>
<rect x="443.60" y="251.10" width="6.50" height="7.60" fill="#fff"/>
<rect x="451.10" y="251.10" width="7.10" height="7.60" fill="#fff"/>
<rect x="459.20" y="251.10" width="6.60" height="7.60" fill="#fff"/>
<rect x="466.80" y="251.10" width="7.10" height="7.60" fill="#fff"/>
<rect x="474.90" y="251.10" width="7.85" height="7.60" fill="#fff"/>
<rect x="483.75" y="251.10" width="7.25" height="7.60" fill="#fff"/>
<rect x="492.00" y="251.10" width="20.20" height="7.60" fill="#fff"/>
<rect x="389.20" y="259.70" width="7.30" height="8.50" fill="#fff"/>
<rect x="397.50" y="259.70" width="6.65" height="8.50" fill="#fff"/>
<rect x="405.15" y="259.70" width="6.25" height="8.50" fill="#fff"/>
<rect x="412.40" y="259.70" width="6.85" height="8.50" fill="#fff"/>
<rect x="420.25" y="259.70" width="7.35" height="8.50" fill="#fff"/>
<rect x="428.60" y="259.70" width="6.40" height="8.50" fill="#fff"/>
<rect x="436.00" y="259.70" width="6.60" height="8.50" fill="#fff"/>
<rect x="443.60" y="259.70" width="6.50" height="8.50" fill="#fff"/>
<rect x="451.10" y="259.70" width="7.10" height="8.50" fill="#fff"/>
<rect x="459.20" y="259.70" width="6.60" height="8.50" fill="#fff"/>
<rect x="466.80" y="259.70" width="7.10" height="8.50" fill="#fff"/>
<rect x="474.90" y="259.70" width="7.85" height="8.50" fill="#fff"/>
<rect x="483.75" y="259.70" width="7.25" height="8.50" fill="#fff"/>
<rect x="492.00" y="259.70" width="20.20" height="8.50" fill="#fff"/>
<rect x="389.20" y="269.20" width="7.30" height="7.80" fill="#fff"/>
<rect x="397.50" y="269.20" width="6.65" height="7.80" fill="#fff"/>
<rect x="405.15" y="269.20" width="6.25" height="7.80" fill="#fff"/>
<rect x="412.40" y="269.20" width="6.85" height="7.80" fill="#fff"/>
<rect x="420.25" y="269.20" width="7.35" height="7.80" fill="#fff"/>
<rect x="428.60" y="269.20" width="6.40" height="7.80" fill="#fff"/>
<rect x="436.00" y="269.20" width="6.60" height="7.80" fill="#fff"/>
<rect x="443.60" y="269.20" width="6.50" height="7.80" fill="#fff"/>
<rect x="451.10" y="269.20" width="7.10" height="7.80" fill="#fff"/>
<rect x="459.20" y="269.20" width="6.60" height="7.80" fill="#fff"/>
<rect x="466.80" y="269.20" width="7.10" height="7.80" fill="#fff"/>
<rect x="474.90" y="269.20" width="7.85" height="7.80" fill="#fff"/>
<rect x="483.75" y="269.20" width="7.25" height="7.80" fill="#fff"/>
<rect x="492.00" y="269.20" width="20.20" height="7.80" fill="#fff"/>
<rect x="389.20" y="278.00" width="7.30" height="8.20" fill="#fff"/>
<rect x="397.50" y="278.00" width="6.65" height="8.20" fill="#fff"/>
<rect x="405.15" y="278.00" width="6.25" height="8.20" fill="#fff"/>
<rect x="412.40" y="278.00" width="6.85" height="8.20" fill="#fff"/>
<rect x="420.25" y="278.00" width="7.35" height="8.20" fill="#fff"/>
<rect x="428.60" y="278.00" width="6.40" height="8.20" fill="#fff"/>
<rect x="436.00" y="278.00" width="6.60" height="8.20" fill="#fff"/>
<rect x="443.60" y="278.00" width="6.50" height="8.20" fill="#fff"/>
<rect x="451.10" y="278.00" width="7.10" height="8.20" fill="#fff"/>
<rect x="459.20" y="278.00" width="6.60" height="8.20" fill="#fff"/>
<rect x="466.80" y="278.00" width="7.10" height="8.20" fill="#fff"/>
<rect x="474.90" y="278.00" width="7.85" height="8.20" fill="#fff"/>
<rect x="483.75" y="278.00" width="7.25" height="8.20" fill="#fff"/>
<rect x="492.00" y="278.00" width="20.20" height="8.20" fill="#fff"/>
<rect x="389.20" y="287.20" width="7.30" height="7.80" fill="#fff"/>
<rect x="397.50" y="287.20" width="6.65" height="7.80" fill="#fff"/>
<rect x="405.15" y="287.20" width="6.25" height="7.80" fill="#fff"/>
<rect x="412.40" y="287.20" width="6.85" height="7.80" fill="#fff"/>
<rect x="420.25" y="287.20" width="7.35" height="7.80" fill="#fff"/>
<rect x="428.60" y="287.20" width="6.40" height="7.80" fill="#fff"/>
<rect x="436.00" y="287.20" width="6.60" height="7.80" fill="#fff"/>
<rect x="443.60" y="287.20" width="6.50" height="7.80" fill="#fff"/>
<rect x="451.10" y="287.20" width="7.10" height="7.80" fill="#fff"/>
<rect x="459.20" y="287.20" width="6.60" height="7.80" fill="#fff"/>
<rect x="466.80" y="287.20" width="7.10" height="7.80" fill="#fff"/>
<rect x="474.90" y="287.20" width="7.85" height="7.80" fill="#fff"/>
<rect x="483.75" y="287.20" width="7.25" height="7.80" fill="#fff"/>
<rect x="492.00" y="287.20" width="20.20" height="7.80" fill="#fff"/>
<rect x="389.20" y="296.00" width="7.30" height="7.50" fill="#fff"/>
<rect x="397.50" y="296.00" width="6.65" height="7.50" fill="#fff"/>
<rect x="405.15" y="296.00" width="6.25" height="7.50" fill="#fff"/>
<rect x="412.40" y="296.00" width="6.85" height="7.50" fill="#fff"/>
<rect x="420.25" y="296.00" width="7.35" height="7.50" fill="#fff"/>
<rect x="428.60" y="296.00" width="6.40" height="7.50" fill="#fff"/>
<rect x="436.00" y="296.00" width="6.60" height="7.50" fill="#fff"/>
<rect x="443.60" y="296.00" width="6.50" height="7.50" fill="#fff"/>
<rect x="451.10" y="296.00" width="7.10" height="7.50" fill="#fff"/>
<rect x="459.20" y="296.00" width="6.60" height="7.50" fill="#fff"/>
<rect x="466.80" y="296.00" width="7.10" height="7.50" fill="#fff"/>
<rect x="474.90" y="296.00" width="7.85" height="7.50" fill="#fff"/>
<rect x="483.75" y="296.00" width="7.25" height="7.50" fill="#fff"/>
<rect x="492.00" y="296.00" width="20.20" height="7.50" fill="#fff"/>
<rect x="389.20" y="304.50" width="7.30" height="8.30" fill="#fff"/>
<rect x="397.50" y="304.50" width="6.65" height="8.30" fill="#fff"/>
<rect x="405.15" y="304.50" width="6.25" height="8.30" fill="#fff"/>
<rect x="412.40" y="304.50" width="6.85" height="8.30" fill="#fff"/>
<rect x="420.25" y="304.50" width="7.35" height="8.30" fill="#fff"/>
<rect x="428.60" y="304.50" width="6.40" height="8.30" fill="#fff"/>
<rect x="436.00" y="304.50" width="6.60" height="8.30" fill="#fff"/>
<rect x="443.60" y="304.50" width="6.50" height="8.30" fill="#fff"/>
<rect x="451.10" y="304.50" width="7.10" height="8.30" fill="#fff"/>
<rect x="459.20" y="304.50" width="6.60" height="8.30" fill="#fff"/>
<rect x="466.80" y="304.50" width="7.10" height="8.30" fill="#fff"/>
<rect x="474.90" y="304.50" width="7.85" height="8.30" fill="#fff"/>
<rect x="483.75" y="304.50" width="7.25" height="8.30" fill="#fff"/>
<rect x="492.00" y="304.50" width="20.20" height="8.30" fill="#fff"/>
<rect x="389.20" y="313.80" width="7.30" height="7.70" fill="#fff"/>
<rect x="397.50" y="313.80" width="6.65" height="7.70" fill="#fff"/>
<rect x="405.15" y="313.80" width="6.25" height="7.70" fill="#fff"/>
<rect x="412.40" y="313.80" width="6.85" height="7.70" fill="#fff"/>
<rect x="420.25" y="313.80" width="7.35" height="7.70" fill="#fff"/>
<rect x="428.60" y="313.80" width="6.40" height="7.70" fill="#fff"/>
<rect x="436.00" y="313.80" width="6.60" height="7.70" fill="#fff"/>
<rect x="443.60" y="313.80" width="6.50" height="7.70" fill="#fff"/>
<rect x="451.10" y="313.80" width="7.10" height="7.70" fill="#fff"/>
<rect x="459.20" y="313.80" width="6.60" height="7.70" fill="#fff"/>
<rect x="466.80" y="313.80" width="7.10" height="7.70" fill="#fff"/>
<rect x="474.90" y="313.80" width="7.85" height="7.70" fill="#fff"/>
<rect x="483.75" y="313.80" width="7.25" height="7.70" fill="#fff"/>
<rect x="492.00" y="313.80" width="20.20" height="7.70" fill="#fff"/>
<rect x="389.20" y="322.50" width="7.30" height="7.50" fill="#fff"/>
<rect x="397.50" y="322.50" width="6.65" height="7.50" fill="#fff"/>
<rect x="405.15" y="322.50" width="6.25" height="7.50" fill="#fff"/>
<rect x="412.40" y="322.50" width="6.85" height="7.50" fill="#fff"/>
<rect x="420.25" y="322.50" width="7.35" height="7.50" fill="#fff"/>
<rect x="428.60" y="322.50" width="6.40" height="7.50" fill="#fff"/>
<rect x="436.00" y="322.50" width="6.60" height="7.50" fill="#fff"/>
<rect x="443.60" y="322.50" width="6.50" height="7.50" fill="#fff"/>
<rect x="451.10" y="322.50" width="7.10" height="7.50" fill="#fff"/>
<rect x="459.20" y="322.50" width="6.60" height="7.50" fill="#fff"/>
<rect x="466.80" y="322.50" width="7.10" height="7.50" fill="#fff"/>
<rect x="474.90" y="322.50" width="7.85" height="7.50" fill="#fff"/>
<rect x="483.75" y="322.50" width="7.25" height="7.50" fill="#fff"/>
<rect x="492.00" y="322.50" width="20.20" height="7.50" fill="#fff"/>
<rect x="389.20" y="331.00" width="7.30" height="7.80" fill="#fff"/>
<rect x="397.50" y="331.00" width="6.65" height="7.80" fill="#fff"/>
<rect x="405.15" y="331.00" width="6.25" height="7.80" fill="#fff"/>
<rect x="412.40" y="331.00" width="6.85" height="7.80" fill="#fff"/>
<rect x="420.25" y="331.00" width="7.35" height="7.80" fill="#fff"/>
<rect x="428.60" y="331.00" width="6.40" height="7.80" fill="#fff"/>
<rect x="436.00" y="331.00" width="6.60" height="7.80" fill="#fff"/>
<rect x="443.60" y="331.00" width="6.50" height="7.80" fill="#fff"/>
<rect x="451.10" y="331.00" width="7.10" height="7.80" fill="#fff"/>
<rect x="459.20" y="331.00" width="6.60" height="7.80" fill="#fff"/>
<rect x="466.80" y="331.00" width="7.10" height="7.80" fill="#fff"/>
<rect x="474.90" y="331.00" width="7.85" height="7.80" fill="#fff"/>
<rect x="483.75" y="331.00" width="7.25" height="7.80" fill="#fff"/>
<rect x="492.00" y="331.00" width="20.20" height="7.80" fill="#fff"/>
<rect x="389.20" y="339.80" width="7.30" height="7.50" fill="#fff"/>
<rect x="397.50" y="339.80" width="6.65" height="7.50" fill="#fff"/>
<rect x="405.15" y="339.80" width="6.25" height="7.50" fill="#fff"/>
<rect x="412.40" y="339.80" width="6.85" height="7.50" fill="#fff"/>
<rect x="420.25" y="339.80" width="7.35" height="7.50" fill="#fff"/>
<rect x="428.60" y="339.80" width="6.40" height="7.50" fill="#fff"/>
<rect x="436.00" y="339.80" width="6.60" height="7.50" fill="#fff"/>
<rect x="443.60" y="339.80" width="6.50" height="7.50" fill="#fff"/>
<rect x="451.10" y="339.80" width="7.10" height="7.50" fill="#fff"/>
<rect x="459.20" y="339.80" width="6.60" height="7.50" fill="#fff"/>
<rect x="466.80" y="339.80" width="7.10" height="7.50" fill="#fff"/>
<rect x="474.90" y="339.80" width="7.85" height="7.50" fill="#fff"/>
<rect x="483.75" y="339.80" width="7.25" height="7.50" fill="#fff"/>
<rect x="492.00" y="339.80" width="20.20" height="7.50" fill="#fff"/>
<rect x="389.20" y="348.30" width="7.30" height="7.50" fill="#fff"/>
<rect x="397.50" y="348.30" width="6.65" height="7.50" fill="#fff"/>
<rect x="405.15" y="348.30" width="6.25" height="7.50" fill="#fff"/>
<rect x="412.40" y="348.30" width="6.85" height="7.50" fill="#fff"/>
<rect x="420.25" y="348.30" width="7.35" height="7.50" fill="#fff"/>
<rect x="428.60" y="348.30" width="6.40" height="7.50" fill="#fff"/>
<rect x="436.00" y="348.30" width="6.60" height="7.50" fill="#fff"/>
<rect x="443.60" y="348.30" width="6.50" height="7.50" fill="#fff"/>
<rect x="451.10" y="348.30" width="7.10" height="7.50" fill="#fff"/>
<rect x="459.20" y="348.30" width="6.60" height="7.50" fill="#fff"/>
<rect x="466.80" y="348.30" width="7.10" height="7.50" fill="#fff"/>
<rect x="474.90" y="348.30" width="7.85" height="7.50" fill="#fff"/>
<rect x="483.75" y="348.30" width="7.25" height="7.50" fill="#fff"/>
<rect x="492.00" y="348.30" width="20.20" height="7.50" fill="#fff"/>
<rect x="389.20" y="356.80" width="7.30" height="7.80" fill="#fff"/>
<rect x="397.50" y="356.80" width="6.65" height="7.80" fill="#fff"/>
<rect x="405.15" y="356.80" width="6.25" height="7.80" fill="#fff"/>
<rect x="412.40" y="356.80" width="6.85" height="7.80" fill="#fff"/>
<rect x="420.25" y="356.80" width="7.35" height="7.80" fill="#fff"/>
<rect x="428.60" y="356.80" width="6.40" height="7.80" fill="#fff"/>
<rect x="436.00" y="356.80" width="6.60" height="7.80" fill="#fff"/>
<rect x="443.60" y="356.80" width="6.50" height="7.80" fill="#fff"/>
<rect x="451.10" y="356.80" width="7.10" height="7.80" fill="#fff"/>
<rect x="459.20" y="356.80" width="6.60" height="7.80" fill="#fff"/>
<rect x="466.80" y="356.80" width="7.10" height="7.80" fill="#fff"/>
<rect x="474.90" y="356.80" width="7.85" height="7.80" fill="#fff"/>
<rect x="483.75" y="356.80" width="7.25" height="7.80" fill="#fff"/>
<rect x="492.00" y="356.80" width="20.20" height="7.80" fill="#fff"/>
<rect x="389.20" y="365.60" width="7.30" height="7.80" fill="#fff"/>
<rect x="397.50" y="365.60" width="6.65" height="7.80" fill="#fff"/>
<rect x="405.15" y="365.60" width="6.25" height="7.80" fill="#fff"/>
<rect x="412.40" y="365.60" width="6.85" height="7.80" fill="#fff"/>
<rect x="420.25" y="365.60" width="7.35" height="7.80" fill="#fff"/>
<rect x="428.60" y="365.60" width="6.40" height="7.80" fill="#fff"/>
<rect x="436.00" y="365.60" width="6.60" height="7.80" fill="#fff"/>
<rect x="443.60" y="365.60" width="6.50" height="7.80" fill="#fff"/>
<rect x="451.10" y="365.60" width="7.10" height="7.80" fill="#fff"/>
<rect x="459.20" y="365.60" width="6.60" height="7.80" fill="#fff"/>
<rect x="466.80" y="365.60" width="7.10" height="7.80" fill="#fff"/>
<rect x="474.90" y="365.60" width="7.85" height="7.80" fill="#fff"/>
<rect x="483.75" y="365.60" width="7.25" height="7.80" fill="#fff"/>
<rect x="492.00" y="365.60" width="20.20" height="7.80" fill="#fff"/>
<rect x="389.20" y="374.40" width="7.30" height="7.70" fill="#fff"/>
<rect x="397.50" y="374.40" width="6.65" height="7.70" fill="#fff"/>
<rect x="405.15" y="374.40" width="6.25" height="7.70" fill="#fff"/>
<rect x="412.40" y="374.40" width="6.85" height="7.70" fill="#fff"/>
<rect x="420.25" y="374.40" width="7.35" height="7.70" fill="#fff"/>
<rect x="428.60" y="374.40" width="6.40" height="7.70" fill="#fff"/>
<rect x="436.00" y="374.40" width="6.60" height="7.70" fill="#fff"/>
<rect x="443.60" y="374.40" width="6.50" height="7.70" fill="#fff"/>
<rect x="451.10" y="374.40" width="7.10" height="7.70" fill="#fff"/>
<rect x="459.20" y="374.40" width="6.60" height="7.70" fill="#fff"/>
<rect x="466.80" y="374.40" width="7.10" height="7.70" fill="#fff"/>
<rect x="474.90" y="374.40" width="7.85" height="7.70" fill="#fff"/>
<rect x="483.75" y="374.40" width="7.25" height="7.70" fill="#fff"/>
<rect x="492.00" y="374.40" width="20.20" height="7.70" fill="#fff"/>
<rect x="389.20" y="383.10" width="7.30" height="6.70" fill="#fff"/>
<rect x="397.50" y="383.10" width="6.65" height="6.70" fill="#fff"/>
<rect x="405.15" y="383.10" width="6.25" height="6.70" fill="#fff"/>
<rect x="412.40" y="383.10" width="6.85" height="6.70" fill="#fff"/>
<rect x="420.25" y="383.10" width="7.35" height="6.70" fill="#fff"/>
<rect x="428.60" y="383.10" width="6.40" height="6.70" fill="#fff"/>
<rect x="436.00" y="383.10" width="6.60" height="6.70" fill="#fff"/>
<rect x="443.60" y="383.10" width="6.50" height="6.70" fill="#fff"/>
<rect x="451.10" y="383.10" width="7.10" height="6.70" fill="#fff"/>
<rect x="459.20" y="383.10" width="6.60" height="6.70" fill="#fff"/>
<rect x="466.80" y="383.10" width="7.10" height="6.70" fill="#fff"/>
<rect x="474.90" y="383.10" width="7.85" height="6.70" fill="#fff"/>
<rect x="483.75" y="383.10" width="7.25" height="6.70" fill="#fff"/>
<rect x="492.00" y="383.10" width="20.20" height="6.70" fill="#fff"/>
<rect x="389.20" y="390.80" width="7.30" height="7.30" fill="#fff"/>
<rect x="397.50" y="390.80" width="6.65" height="7.30" fill="#fff"/>
<rect x="405.15" y="390.80" width="6.25" height="7.30" fill="#fff"/>
<rect x="412.40" y="390.80" width="6.85" height="7.30" fill="#fff"/>
<rect x="420.25" y="390.80" width="7.35" height="7.30" fill="#fff"/>
<rect x="428.60" y="390.80" width="6.40" height="7.30" fill="#fff"/>
<rect x="436.00" y="390.80" width="6.60" height="7.30" fill="#fff"/>
<rect x="443.60" y="390.80" width="6.50" height="7.30" fill="#fff"/>
<rect x="451.10" y="390.80" width="7.10" height="7.30" fill="#fff"/>
<rect x="459.20" y="390.80" width="6.60" height="7.30" fill="#fff"/>
<rect x="466.80" y="390.80" width="7.10" height="7.30" fill="#fff"/>
<rect x="474.90" y="390.80" width="7.85" height="7.30" fill="#fff"/>
<rect x="483.75" y="390.80" width="7.25" height="7.30" fill="#fff"/>
<rect x="492.00" y="390.80" width="20.20" height="7.30" fill="#fff"/>
<rect x="389.20" y="399.10" width="7.30" height="7.90" fill="#fff"/>
<rect x="397.50" y="399.10" width="6.65" height="7.90" fill="#fff"/>
<rect x="405.15" y="399.10" width="6.25" height="7.90" fill="#fff"/>
<rect x="412.40" y="399.10" width="6.85" height="7.90" fill="#fff"/>
<rect x="420.25" y="399.10" width="7.35" height="7.90" fill="#fff"/>
<rect x="428.60" y="399.10" width="6.40" height="7.90" fill="#fff"/>
<rect x="436.00" y="399.10" width="6.60" height="7.90" fill="#fff"/>
<rect x="443.60" y="399.10" width="6.50" height="7.90" fill="#fff"/>
<rect x="451.10" y="399.10" width="7.10" height="7.90" fill="#fff"/>
<rect x="459.20" y="399.10" width="6.60" height="7.90" fill="#fff"/>
<rect x="466.80" y="399.10" width="7.10" height="7.90" fill="#fff"/>
<rect x="474.90" y="399.10" width="7.85" height="7.90" fill="#fff"/>
<rect x="483.75" y="399.10" width="7.25" height="7.90" fill="#fff"/>
<rect x="492.00" y="399.10" width="20.20" height="7.90" fill="#fff"/>
<rect x="389.20" y="408.00" width="7.30" height="7.60" fill="#fff"/>
<rect x="397.50" y="408.00" width="6.65" height="7.60" fill="#fff"/>
<rect x="405.15" y="408.00" width="6.25" height="7.60" fill="#fff"/>
<rect x="412.40" y="408.00" width="6.85" height="7.60" fill="#fff"/>
<rect x="420.25" y="408.00" width="7.35" height="7.60" fill="#fff"/>
<rect x="428.60" y="408.00" width="6.40" height="7.60" fill="#fff"/>
<rect x="436.00" y="408.00" width="6.60" height="7.60" fill="#fff"/>
<rect x="443.60" y="408.00" width="6.50" height="7.60" fill="#fff"/>
<rect x="451.10" y="408.00" width="7.10" height="7.60" fill="#fff"/>
<rect x="459.20" y="408.00" width="6.60" height="7.60" fill="#fff"/>
<rect x="466.80" y="408.00" width="7.10" height="7.60" fill="#fff"/>
<rect x="474.90" y="408.00" width="7.85" height="7.60" fill="#fff"/>
<rect x="483.75" y="408.00" width="7.25" height="7.60" fill="#fff"/>
<rect x="492.00" y="408.00" width="20.20" height="7.60" fill="#fff"/>
<rect x="389.20" y="416.60" width="7.30" height="7.80" fill="#fff"/>
<rect x="397.50" y="416.60" width="6.65" height="7.80" fill="#fff"/>
<rect x="405.15" y="416.60" width="6.25" height="7.80" fill="#fff"/>
<rect x="412.40" y="416.60" width="6.85" height="7.80" fill="#fff"/>
<rect x="420.25" y="416.60" width="7.35" height="7.80" fill="#fff"/>
<rect x="428.60" y="416.60" width="6.40" height="7.80" fill="#fff"/>
<rect x="436.00" y="416.60" width="6.60" height="7.80" fill="#fff"/>
<rect x="443.60" y="416.60" width="6.50" height="7.80" fill="#fff"/>
<rect x="451.10" y="416.60" width="7.10" height="7.80" fill="#fff"/>
<rect x="459.20" y="416.60" width="6.60" height="7.80" fill="#fff"/>
<rect x="466.80" y="416.60" width="7.10" height="7.80" fill="#fff"/>
<rect x="474.90" y="416.60" width="7.85" height="7.80" fill="#fff"/>
<rect x="483.75" y="416.60" width="7.25" height="7.80" fill="#fff"/>
<rect x="492.00" y="416.60" width="20.20" height="7.80" fill="#fff"/>
<rect x="389.20" y="425.40" width="7.30" height="7.80" fill="#fff"/>
<rect x="397.50" y="425.40" width="6.65" height="7.80" fill="#fff"/>
<rect x="405.15" y="425.40" width="6.25" height="7.80" fill="#fff"/>
<rect x="412.40" y="425.40" width="6.85" height="7.80" fill="#fff"/>
<rect x="420.25" y="425.40" width="7.35" height="7.80" fill="#fff"/>
<rect x="428.60" y="425.40" width="6.40" height="7.80" fill="#fff"/>
<rect x="436.00" y="425.40" width="6.60" height="7.80" fill="#fff"/>
<rect x="443.60" y="425.40" width="6.50" height="7.80" fill="#fff"/>
<rect x="451.10" y="425.40" width="7.10" height="7.80" fill="#fff"/>
<rect x="459.20" y="425.40" width="6.60" height="7.80" fill="#fff"/>
<rect x="466.80" y="425.40" width="7.10" height="7.80" fill="#fff"/>
<rect x="474.90" y="425.40" width="7.85" height="7.80" fill="#fff"/>
<rect x="483.75" y="425.40" width="7.25" height="7.80" fill="#fff"/>
<rect x="492.00" y="425.40" width="20.20" height="7.80" fill="#fff"/>
<rect x="389.20" y="434.20" width="7.30" height="7.60" fill="#fff"/>
<rect x="397.50" y="434.20" width="6.65" height="7.60" fill="#fff"/>
<rect x="405.15" y="434.20" width="6.25" height="7.60" fill="#fff"/>
<rect x="412.40" y="434.20" width="6.85" height="7.60" fill="#fff"/>
<rect x="420.25" y="434.20" width="7.35" height="7.60" fill="#fff"/>
<rect x="428.60" y="434.20" width="6.40" height="7.60" fill="#fff"/>
<rect x="436.00" y="434.20" width="6.60" height="7.60" fill="#fff"/>
<rect x="443.60" y="434.20" width="6.50" height="7.60" fill="#fff"/>
<rect x="451.10" y="434.20" width="7.10" height="7.60" fill="#fff"/>
<rect x="459.20" y="434.20" width="6.60" height="7.60" fill="#fff"/>
<rect x="466.80" y="434.20" width="7.10" height="7.60" fill="#fff"/>
<rect x="474.90" y="434.20" width="7.85" height="7.60" fill="#fff"/>
<rect x="483.75" y="434.20" width="7.25" height="7.60" fill="#fff"/>
<rect x="492.00" y="434.20" width="20.20" height="7.60" fill="#fff"/>
<rect x="389.20" y="442.80" width="7.30" height="7.80" fill="#fff"/>
<rect x="397.50" y="442.80" width="6.65" height="7.80" fill="#fff"/>
<rect x="405.15" y="442.80" width="6.25" height="7.80" fill="#fff"/>
<rect x="412.40" y="442.80" width="6.85" height="7.80" fill="#fff"/>
<rect x="420.25" y="442.80" width="7.35" height="7.80" fill="#fff"/>
<rect x="428.60" y="442.80" width="6.40" height="7.80" fill="#fff"/>
<rect x="436.00" y="442.80" width="6.60" height="7.80" fill="#fff"/>
<rect x="443.60" y="442.80" width="6.50" height="7.80" fill="#fff"/>
<rect x="451.10" y="442.80" width="7.10" height="7.80" fill="#fff"/>
<rect x="459.20" y="442.80" width="6.60" height="7.80" fill="#fff"/>
<rect x="466.80" y="442.80" width="7.10" height="7.80" fill="#fff"/>
<rect x="474.90" y="442.80" width="7.85" height="7.80" fill="#fff"/>
<rect x="483.75" y="442.80" width="7.25" height="7.80" fill="#fff"/>
<rect x="492.00" y="442.80" width="20.20" height="7.80" fill="#fff"/>
<rect x="389.20" y="451.60" width="7.30" height="7.30" fill="#fff"/>
<rect x="397.50" y="451.60" width="6.65" height="7.30" fill="#fff"/>
<rect x="405.15" y="451.60" width="6.25" height="7.30" fill="#fff"/>
<rect x="412.40" y="451.60" width="6.85" height="7.30" fill="#fff"/>
<rect x="420.25" y="451.60" width="7.35" height="7.30" fill="#fff"/>
<rect x="428.60" y="451.60" width="6.40" height="7.30" fill="#fff"/>
<rect x="436.00" y="451.60" width="6.60" height="7.30" fill="#fff"/>
<rect x="443.60" y="451.60" width="6.50" height="7.30" fill="#fff"/>
<rect x="451.10" y="451.60" width="7.10" height="7.30" fill="#fff"/>
<rect x="459.20" y="451.60" width="6.60" height="7.30" fill="#fff"/>
<rect x="466.80" y="451.60" width="7.10" height="7.30" fill="#fff"/>
<rect x="474.90" y="451.60" width="7.85" height="7.30" fill="#fff"/>
<rect x="483.75" y="451.60" width="7.25" height="7.30" fill="#fff"/>
<rect x="492.00" y="451.60" width="20.20" height="7.30" fill="#fff"/>
<rect x="389.20" y="459.90" width="7.30" height="7.80" fill="#fff"/>
<rect x="397.50" y="459.90" width="6.65" height="7.80" fill="#fff"/>
<rect x="405.15" y="459.90" width="6.25" height="7.80" fill="#fff"/>
<rect x="412.40" y="459.90" width="6.85" height="7.80" fill="#fff"/>
<rect x="420.25" y="459.90" width="7.35" height="7.80" fill="#fff"/>
<rect x="428.60" y="459.90" width="6.40" height="7.80" fill="#fff"/>
<rect x="436.00" y="459.90" width="6.60" height="7.80" fill="#fff"/>
<rect x="443.60" y="459.90" width="6.50" height="7.80" fill="#fff"/>
<rect x="451.10" y="459.90" width="7.10" height="7.80" fill="#fff"/>
<rect x="459.20" y="459.90" width="6.60" height="7.80" fill="#fff"/>
<rect x="466.80" y="459.90" width="7.10" height="7.80" fill="#fff"/>
<rect x="474.90" y="459.90" width="7.85" height="7.80" fill="#fff"/>
<rect x="483.75" y="459.90" width="7.25" height="7.80" fill="#fff"/>
<rect x="492.00" y="459.90" width="20.20" height="7.80" fill="#fff"/>
<rect x="389.20" y="468.70" width="7.30" height="7.70" fill="#fff"/>
<rect x="397.50" y="468.70" width="6.65" height="7.70" fill="#fff"/>
<rect x="405.15" y="468.70" width="6.25" height="7.70" fill="#fff"/>
<rect x="412.40" y="468.70" width="6.85" height="7.70" fill="#fff"/>
<rect x="420.25" y="468.70" width="7.35" height="7.70" fill="#fff"/>
<rect x="428.60" y="468.70" width="6.40" height="7.70" fill="#fff"/>
<rect x="436.00" y="468.70" width="6.60" height="7.70" fill="#fff"/>
<rect x="443.60" y="468.70" width="6.50" height="7.70" fill="#fff"/>
<rect x="451.10" y="468.70" width="7.10" height="7.70" fill="#fff"/>
<rect x="459.20" y="468.70" width="6.60" height="7.70" fill="#fff"/>
<rect x="466.80" y="468.70" width="7.10" height="7.70" fill="#fff"/>
<rect x="474.90" y="468.70" width="7.85" height="7.70" fill="#fff"/>
<rect x="483.75" y="468.70" width="7.25" height="7.70" fill="#fff"/>
<rect x="492.00" y="468.70" width="20.20" height="7.70" fill="#fff"/>
<rect x="389.20" y="477.40" width="7.30" height="8.20" fill="#fff"/>
<rect x="397.50" y="477.40" width="6.65" height="8.20" fill="#fff"/>
<rect x="405.15" y="477.40" width="6.25" height="8.20" fill="#fff"/>
<rect x="412.40" y="477.40" width="6.85" height="8.20" fill="#fff"/>
<rect x="420.25" y="477.40" width="7.35" height="8.20" fill="#fff"/>
<rect x="428.60" y="477.40" width="6.40" height="8.20" fill="#fff"/>
<rect x="436.00" y="477.40" width="6.60" height="8.20" fill="#fff"/>
<rect x="443.60" y="477.40" width="6.50" height="8.20" fill="#fff"/>
<rect x="451.10" y="477.40" width="7.10" height="8.20" fill="#fff"/>
<rect x="459.20" y="477.40" width="6.60" height="8.20" fill="#fff"/>
<rect x="466.80" y="477.40" width="7.10" height="8.20" fill="#fff"/>
<rect x="474.90" y="477.40" width="7.85" height="8.20" fill="#fff"/>
<rect x="483.75" y="477.40" width="7.25" height="8.20" fill="#fff"/>
<rect x="492.00" y="477.40" width="20.20" height="8.20" fill="#fff"/>
<rect x="389.20" y="486.60" width="7.30" height="7.60" fill="#fff"/>
<rect x="397.50" y="486.60" width="6.65" height="7.60" fill="#fff"/>
<rect x="405.15" y="486.60" width="6.25" height="7.60" fill="#fff"/>
<rect x="412.40" y="486.60" width="6.85" height="7.60" fill="#fff"/>
<rect x="420.25" y="486.60" width="7.35" height="7.60" fill="#fff"/>
<rect x="428.60" y="486.60" width="6.40" height="7.60" fill="#fff"/>
<rect x="436.00" y="486.60" width="6.60" height="7.60" fill="#fff"/>
<rect x="443.60" y="486.60" width="6.50" height="7.60" fill="#fff"/>
<rect x="451.10" y="486.60" width="7.10" height="7.60" fill="#fff"/>
<rect x="459.20" y="486.60" width="6.60" height="7.60" fill="#fff"/>
<rect x="466.80" y="486.60" width="7.10" height="7.60" fill="#fff"/>
<rect x="474.90" y="486.60" width="7.85" height="7.60" fill="#fff"/>
<rect x="483.75" y="486.60" width="7.25" height="7.60" fill="#fff"/>
<rect x="492.00" y="486.60" width="20.20" height="7.60" fill="#fff"/>
<rect x="389.20" y="495.20" width="7.30" height="7.60" fill="#fff"/>
<rect x="397.50" y="495.20" width="6.65" height="7.60" fill="#fff"/>
<rect x="405.15" y="495.20" width="6.25" height="7.60" fill="#fff"/>
<rect x="412.40" y="495.20" width="6.85" height="7.60" fill="#fff"/>
<rect x="420.25" y="495.20" width="7.35" height="7.60" fill="#fff"/>
<rect x="428.60" y="495.20" width="6.40" height="7.60" fill="#fff"/>
<rect x="436.00" y="495.20" width="6.60" height="7.60" fill="#fff"/>
<rect x="443.60" y="495.20" width="6.50" height="7.60" fill="#fff"/>
<rect x="451.10" y="495.20" width="7.10" height="7.60" fill="#fff"/>
<rect x="459.20" y="495.20" width="6.60" height="7.60" fill="#fff"/>
<rect x="466.80" y="495.20" width="7.10" height="7.60" fill="#fff"/>
<rect x="474.90" y="495.20" width="7.85" height="7.60" fill="#fff"/>
<rect x="483.75" y="495.20" width="7.25" height="7.60" fill="#fff"/>
<rect x="492.00" y="495.20" width="20.20" height="7.60" fill="#fff"/>
<rect x="389.20" y="503.80" width="7.30" height="6.90" fill="#fff"/>
<rect x="397.50" y="503.80" width="6.65" height="6.90" fill="#fff"/>
<rect x="405.15" y="503.80" width="6.25" height="6.90" fill="#fff"/>
<rect x="412.40" y="503.80" width="6.85" height="6.90" fill="#fff"/>
<rect x="420.25" y="503.80" width="7.35" height="6.90" fill="#fff"/>
<rect x="428.60" y="503.80" width="6.40" height="6.90" fill="#fff"/>
<rect x="436.00" y="503.80" width="6.60" height="6.90" fill="#fff"/>
<rect x="443.60" y="503.80" width="6.50" height="6.90" fill="#fff"/>
<rect x="451.10" y="503.80" width="7.10" height="6.90" fill="#fff"/>
<rect x="459.20" y="503.80" width="6.60" height="6.90" fill="#fff"/>
<rect x="466.80" y="503.80" width="7.10" height="6.90" fill="#fff"/>
<rect x="474.90" y="503.80" width="7.85" height="6.90" fill="#fff"/>
<rect x="483.75" y="503.80" width="7.25" height="6.90" fill="#fff"/>
<rect x="492.00" y="503.80" width="20.20" height="6.90" fill="#fff"/>
<rect x="389.20" y="511.70" width="7.30" height="7.20" fill="#fff"/>
<rect x="397.50" y="511.70" width="6.65" height="7.20" fill="#fff"/>
<rect x="405.15" y="511.70" width="6.25" height="7.20" fill="#fff"/>
<rect x="412.40" y="511.70" width="6.85" height="7.20" fill="#fff"/>
<rect x="420.25" y="511.70" width="7.35" height="7.20" fill="#fff"/>
<rect x="428.60" y="511.70" width="6.40" height="7.20" fill="#fff"/>
<rect x="436.00" y="511.70" width="6.60" height="7.20" fill="#fff"/>
<rect x="443.60" y="511.70" width="6.50" height="7.20" fill="#fff"/>
<rect x="451.10" y="511.70" width="7.10" height="7.20" fill="#fff"/>
<rect x="459.20" y="511.70" width="6.60" height="7.20" fill="#fff"/>
<rect x="466.80" y="511.70" width="7.10" height="7.20" fill="#fff"/>
<rect x="474.90" y="511.70" width="7.85" height="7.20" fill="#fff"/>
<rect x="483.75" y="511.70" width="7.25" height="7.20" fill="#fff"/>
<rect x="492.00" y="511.70" width="20.20" height="7.20" fill="#fff"/>
<rect x="389.20" y="519.90" width="7.30" height="7.80" fill="#fff"/>
<rect x="397.50" y="519.90" width="6.65" height="7.80" fill="#fff"/>
<rect x="405.15" y="519.90" width="6.25" height="7.80" fill="#fff"/>
<rect x="412.40" y="519.90" width="6.85" height="7.80" fill="#fff"/>
<rect x="420.25" y="519.90" width="7.35" height="7.80" fill="#fff"/>
<rect x="428.60" y="519.90" width="6.40" height="7.80" fill="#fff"/>
<rect x="436.00" y="519.90" width="6.60" height="7.80" fill="#fff"/>
<rect x="443.60" y="519.90" width="6.50" height="7.80" fill="#fff"/>
<rect x="451.10" y="519.90" width="7.10" height="7.80" fill="#fff"/>
<rect x="459.20" y="519.90" width="6.60" height="7.80" fill="#fff"/>
<rect x="466.80" y="519.90" width="7.10" height="7.80" fill="#fff"/>
<rect x="474.90" y="519.90" width="7.85" height="7.80" fill="#fff"/>
<rect x="483.75" y="519.90" width="7.25" height="7.80" fill="#fff"/>
<rect x="492.00" y="519.90" width="20.20" height="7.80" fill="#fff"/>
<rect x="389.20" y="528.70" width="7.30" height="7.50" fill="#fff"/>
<rect x="397.50" y="528.70" width="6.65" height="7.50" fill="#fff"/>
<rect x="405.15" y="528.70" width="6.25" height="7.50" fill="#fff"/>
<rect x="412.40" y="528.70" width="6.85" height="7.50" fill="#fff"/>
<rect x="420.25" y="528.70" width="7.35" height="7.50" fill="#fff"/>
<rect x="428.60" y="528.70" width="6.40" height="7.50" fill="#fff"/>
<rect x="436.00" y="528.70" width="6.60" height="7.50" fill="#fff"/>
<rect x="443.60" y="528.70" width="6.50" height="7.50" fill="#fff"/>
<rect x="451.10" y="528.70" width="7.10" height="7.50" fill="#fff"/>
<rect x="459.20" y="528.70" width="6.60" height="7.50" fill="#fff"/>
<rect x="466.80" y="528.70" width="7.10" height="7.50" fill="#fff"/>
<rect x="474.90" y="528.70" width="7.85" height="7.50" fill="#fff"/>
<rect x="483.75" y="528.70" width="7.25" height="7.50" fill="#fff"/>
<rect x="492.00" y="528.70" width="20.20" height="7.50" fill="#fff"/>
<rect x="389.20" y="31.00" width="7.30" height="8.00" fill="#F2BD1B"/>
<rect x="397.50" y="31.00" width="6.65" height="8.00" fill="#F2BD1B"/>
<rect x="405.15" y="31.00" width="6.25" height="8.00" fill="#63AD3F"/>
<rect x="412.40" y="31.00" width="6.85" height="8.00" fill="#F2BD1B"/>
<rect x="420.25" y="31.00" width="7.35" height="8.00" fill="#F2BD1B"/>
<rect x="428.60" y="31.00" width="6.40" height="8.00" fill="#63AD3F"/>
<rect x="436.00" y="31.00" width="6.60" height="8.00" fill="#F2BD1B"/>
<rect x="443.60" y="31.00" width="6.50" height="8.00" fill="#F2BD1B"/>
<rect x="451.10" y="31.00" width="7.10" height="8.00" fill="#F2BD1B"/>
<rect x="459.20" y="31.00" width="6.60" height="8.00" fill="#F2BD1B"/>
<rect x="466.80" y="31.00" width="7.10" height="8.00" fill="#F2BD1B"/>
<rect x="474.90" y="31.00" width="7.85" height="8.00" fill="#63AD3F"/>
<rect x="483.75" y="31.00" width="7.25" height="8.00" fill="#F2BD1B"/>
<text transform="translate(502.40,37.70) scale(1,1.08)" font-size="7.7" text-anchor="middle" fill="#1a1a1a" stroke="#1a1a1a" stroke-width="0.22">13</text>
<text transform="translate(385.2,37.60) scale(1,1.08)" font-size="7.6" text-anchor="end" fill="#1a1a1a" stroke="#1a1a1a" stroke-width="0.22">UBR5</text>
<rect x="397.50" y="40.00" width="6.65" height="8.00" fill="#63AD3F"/>
<rect x="405.15" y="40.00" width="6.25" height="8.00" fill="#63AD3F"/>
<rect x="412.40" y="40.00" width="6.85" height="8.00" fill="#63AD3F"/>
<rect x="428.60" y="40.00" width="6.40" height="8.00" fill="#63AD3F"/>
<rect x="459.20" y="40.00" width="6.60" height="8.00" fill="#63AD3F"/>
<text transform="translate(502.40,46.70) scale(1,1.08)" font-size="7.7" text-anchor="middle" fill="#1a1a1a" stroke="#1a1a1a" stroke-width="0.22">5</text>
<text transform="translate(385.2,46.60) scale(1,1.08)" font-size="7.6" text-anchor="end" fill="#1a1a1a" stroke="#1a1a1a" stroke-width="0.22">LRP1B</text>
<rect x="389.20" y="49.00" width="7.30" height="7.60" fill="#63AD3F"/>
<rect x="397.50" y="49.00" width="6.65" height="7.60" fill="#F2BD1B"/>
<text transform="translate(400.82,55.70) scale(1,1.08)" font-size="7.8" text-anchor="middle" textLength="3.9" lengthAdjust="spacingAndGlyphs" fill="#111" stroke="#111" stroke-width="0.3">2</text>
<rect x="412.40" y="49.00" width="6.85" height="7.60" fill="#F2BD1B"/>
<text transform="translate(415.82,55.70) scale(1,1.08)" font-size="7.8" text-anchor="middle" textLength="3.9" lengthAdjust="spacingAndGlyphs" fill="#111" stroke="#111" stroke-width="0.3">2</text>
<rect x="420.25" y="49.00" width="7.35" height="7.60" fill="#63AD3F"/>
<rect x="443.60" y="49.00" width="6.50" height="7.60" fill="#63AD3F"/>
<text transform="translate(502.40,55.50) scale(1,1.08)" font-size="7.7" text-anchor="middle" fill="#1a1a1a" stroke="#1a1a1a" stroke-width="0.22">7</text>
<text transform="translate(385.2,55.40) scale(1,1.08)" font-size="7.6" text-anchor="end" fill="#1a1a1a" stroke="#1a1a1a" stroke-width="0.22">TP53</text>
<rect x="405.15" y="57.60" width="6.25" height="8.10" fill="#63AD3F"/>
<rect x="436.00" y="57.60" width="6.60" height="8.10" fill="#F2BD1B"/>
<text transform="translate(439.30,64.55) scale(1,1.08)" font-size="7.8" text-anchor="middle" textLength="3.9" lengthAdjust="spacingAndGlyphs" fill="#111" stroke="#111" stroke-width="0.3">2</text>
<rect x="451.10" y="57.60" width="7.10" height="8.10" fill="#63AD3F"/>
<path d="M451.10,65.70 Q456.43,63.68 458.20,57.60 L458.20,65.70 Z" fill="#F2BD1B"/>
<rect x="483.75" y="57.60" width="7.25" height="8.10" fill="#63AD3F"/>
<text transform="translate(502.40,64.35) scale(1,1.08)" font-size="7.7" text-anchor="middle" fill="#1a1a1a" stroke="#1a1a1a" stroke-width="0.22">6</text>
<text transform="translate(385.2,64.25) scale(1,1.08)" font-size="7.6" text-anchor="end" fill="#1a1a1a" stroke="#1a1a1a" stroke-width="0.22">ATM</text>
<rect x="389.20" y="66.70" width="7.30" height="8.30" fill="#63AD3F"/>
<rect x="420.25" y="66.70" width="7.35" height="8.30" fill="#63AD3F"/>
<text transform="translate(423.93,73.75) scale(1,1.08)" font-size="7.8" text-anchor="middle" textLength="3.9" lengthAdjust="spacingAndGlyphs" fill="#111" stroke="#111" stroke-width="0.3">2</text>
<rect x="443.60" y="66.70" width="6.50" height="8.30" fill="#63AD3F"/>
<text transform="translate(446.85,73.75) scale(1,1.08)" font-size="7.8" text-anchor="middle" textLength="3.9" lengthAdjust="spacingAndGlyphs" fill="#111" stroke="#111" stroke-width="0.3">2</text>
<rect x="451.10" y="66.70" width="7.10" height="8.30" fill="#63AD3F"/>
<text transform="translate(502.40,73.55) scale(1,1.08)" font-size="7.7" text-anchor="middle" fill="#1a1a1a" stroke="#1a1a1a" stroke-width="0.22">6</text>
<text transform="translate(385.2,73.45) scale(1,1.08)" font-size="7.6" text-anchor="end" fill="#1a1a1a" stroke="#1a1a1a" stroke-width="0.22">CSMD3</text>
<rect x="428.60" y="76.00" width="6.40" height="8.40" fill="#63AD3F"/>
<rect x="436.00" y="76.00" width="6.60" height="8.40" fill="#63AD3F"/>
<rect x="466.80" y="76.00" width="7.10" height="8.40" fill="#63AD3F"/>
<text transform="translate(502.40,82.90) scale(1,1.08)" font-size="7.7" text-anchor="middle" fill="#1a1a1a" stroke="#1a1a1a" stroke-width="0.22">3</text>
<text transform="translate(385.2,82.80) scale(1,1.08)" font-size="7.6" text-anchor="end" fill="#1a1a1a" stroke="#1a1a1a" stroke-width="0.22">COL7A1</text>
<rect x="420.25" y="85.40" width="7.35" height="8.60" fill="#63AD3F"/>
<rect x="443.60" y="85.40" width="6.50" height="8.60" fill="#63AD3F"/>
<rect x="483.75" y="85.40" width="7.25" height="8.60" fill="#F2BD1B"/>
<text transform="translate(502.40,92.40) scale(1,1.08)" font-size="7.7" text-anchor="middle" fill="#1a1a1a" stroke="#1a1a1a" stroke-width="0.22">3</text>
<text transform="translate(385.2,92.30) scale(1,1.08)" font-size="7.6" text-anchor="end" fill="#1a1a1a" stroke="#1a1a1a" stroke-width="0.22">HMCN1</text>
<rect x="397.50" y="95.00" width="6.65" height="8.00" fill="#F2BD1B"/>
<rect x="405.15" y="95.00" width="6.25" height="8.00" fill="#F2BD1B"/>
<rect x="412.40" y="95.00" width="6.85" height="8.00" fill="#F2BD1B"/>
<text transform="translate(502.40,101.70) scale(1,1.08)" font-size="7.7" text-anchor="middle" fill="#1a1a1a" stroke="#1a1a1a" stroke-width="0.22">3</text>
<text transform="translate(385.2,101.60) scale(1,1.08)" font-size="7.6" text-anchor="end" fill="#1a1a1a" stroke="#1a1a1a" stroke-width="0.22">NOTCH1</text>
<rect x="389.20" y="104.00" width="7.30" height="7.70" fill="#63AD3F"/>
<rect x="428.60" y="104.00" width="6.40" height="7.70" fill="#63AD3F"/>
<text transform="translate(502.40,110.55) scale(1,1.08)" font-size="7.7" text-anchor="middle" fill="#1a1a1a" stroke="#1a1a1a" stroke-width="0.22">2</text>
<text transform="translate(385.2,110.45) scale(1,1.08)" font-size="7.6" text-anchor="end" fill="#1a1a1a" stroke="#1a1a1a" stroke-width="0.22">ARID1A</text>
<rect x="397.50" y="112.70" width="6.65" height="7.50" fill="#63AD3F"/>
<rect x="412.40" y="112.70" width="6.85" height="7.50" fill="#63AD3F"/>
<text transform="translate(502.40,119.15) scale(1,1.08)" font-size="7.7" text-anchor="middle" fill="#1a1a1a" stroke="#1a1a1a" stroke-width="0.22">2</text>
<text transform="translate(385.2,119.05) scale(1,1.08)" font-size="7.6" text-anchor="end" fill="#1a1a1a" stroke="#1a1a1a" stroke-width="0.22">BTK</text>
<rect x="397.50" y="121.20" width="6.65" height="7.80" fill="#63AD3F"/>
<rect x="405.15" y="121.20" width="6.25" height="7.80" fill="#63AD3F"/>
<text transform="translate(502.40,127.80) scale(1,1.08)" font-size="7.7" text-anchor="middle" fill="#1a1a1a" stroke="#1a1a1a" stroke-width="0.22">2</text>
<text transform="translate(385.2,127.70) scale(1,1.08)" font-size="7.6" text-anchor="end" fill="#1a1a1a" stroke="#1a1a1a" stroke-width="0.22">CARD11</text>
<rect x="420.25" y="130.00" width="7.35" height="7.70" fill="#63AD3F"/>
<rect x="443.60" y="130.00" width="6.50" height="7.70" fill="#63AD3F"/>
<text transform="translate(502.40,136.55) scale(1,1.08)" font-size="7.7" text-anchor="middle" fill="#1a1a1a" stroke="#1a1a1a" stroke-width="0.22">2</text>
<text transform="translate(385.2,136.45) scale(1,1.08)" font-size="7.6" text-anchor="end" fill="#1a1a1a" stroke="#1a1a1a" stroke-width="0.22">CNTNAP5</text>
<rect x="397.50" y="138.70" width="6.65" height="7.40" fill="#63AD3F"/>
<rect x="412.40" y="138.70" width="6.85" height="7.40" fill="#63AD3F"/>
<text transform="translate(502.40,145.10) scale(1,1.08)" font-size="7.7" text-anchor="middle" fill="#1a1a1a" stroke="#1a1a1a" stroke-width="0.22">2</text>
<text transform="translate(385.2,145.00) scale(1,1.08)" font-size="7.6" text-anchor="end" fill="#1a1a1a" stroke="#1a1a1a" stroke-width="0.22">CREBBP</text>
<rect x="420.25" y="147.10" width="7.35" height="7.80" fill="#63AD3F"/>
<rect x="443.60" y="147.10" width="6.50" height="7.80" fill="#63AD3F"/>
<text transform="translate(502.40,153.70) scale(1,1.08)" font-size="7.7" text-anchor="middle" fill="#1a1a1a" stroke="#1a1a1a" stroke-width="0.22">2</text>
<text transform="translate(385.2,153.60) scale(1,1.08)" font-size="7.6" text-anchor="end" fill="#1a1a1a" stroke="#1a1a1a" stroke-width="0.22">DOCK10</text>
<rect x="420.25" y="155.90" width="7.35" height="7.50" fill="#F2BD1B"/>
<rect x="443.60" y="155.90" width="6.50" height="7.50" fill="#F2BD1B"/>
<text transform="translate(502.40,162.35) scale(1,1.08)" font-size="7.7" text-anchor="middle" fill="#1a1a1a" stroke="#1a1a1a" stroke-width="0.22">2</text>
<text transform="translate(385.2,162.25) scale(1,1.08)" font-size="7.6" text-anchor="end" fill="#1a1a1a" stroke="#1a1a1a" stroke-width="0.22">IGLL5</text>
<rect x="420.25" y="164.40" width="7.35" height="7.60" fill="#63AD3F"/>
<rect x="443.60" y="164.40" width="6.50" height="7.60" fill="#63AD3F"/>
<text transform="translate(502.40,170.90) scale(1,1.08)" font-size="7.7" text-anchor="middle" fill="#1a1a1a" stroke="#1a1a1a" stroke-width="0.22">2</text>
<text transform="translate(385.2,170.80) scale(1,1.08)" font-size="7.6" text-anchor="end" fill="#1a1a1a" stroke="#1a1a1a" stroke-width="0.22">KCNU1</text>
<rect x="397.50" y="173.00" width="6.65" height="7.60" fill="#F2BD1B"/>
<rect x="412.40" y="173.00" width="6.85" height="7.60" fill="#F2BD1B"/>
<text transform="translate(502.40,179.50) scale(1,1.08)" font-size="7.7" text-anchor="middle" fill="#1a1a1a" stroke="#1a1a1a" stroke-width="0.22">2</text>
<text transform="translate(385.2,179.40) scale(1,1.08)" font-size="7.6" text-anchor="end" fill="#1a1a1a" stroke="#1a1a1a" stroke-width="0.22">MYC</text>
<rect x="428.60" y="181.60" width="6.40" height="7.70" fill="#63AD3F"/>
<rect x="436.00" y="181.60" width="6.60" height="7.70" fill="#63AD3F"/>
<text transform="translate(502.40,188.15) scale(1,1.08)" font-size="7.7" text-anchor="middle" fill="#1a1a1a" stroke="#1a1a1a" stroke-width="0.22">2</text>
<text transform="translate(385.2,188.05) scale(1,1.08)" font-size="7.6" text-anchor="end" fill="#1a1a1a" stroke="#1a1a1a" stroke-width="0.22">NEB</text>
<rect x="397.50" y="190.30" width="6.65" height="7.60" fill="#63AD3F"/>
<rect x="412.40" y="190.30" width="6.85" height="7.60" fill="#63AD3F"/>
<text transform="translate(502.40,196.80) scale(1,1.08)" font-size="7.7" text-anchor="middle" fill="#1a1a1a" stroke="#1a1a1a" stroke-width="0.22">2</text>
<text transform="translate(385.2,196.70) scale(1,1.08)" font-size="7.6" text-anchor="end" fill="#1a1a1a" stroke="#1a1a1a" stroke-width="0.22">PIEZO1</text>
<rect x="389.20" y="198.90" width="7.30" height="7.90" fill="#63AD3F"/>
<rect x="459.20" y="198.90" width="6.60" height="7.90" fill="#63AD3F"/>
<text transform="translate(502.40,205.55) scale(1,1.08)" font-size="7.7" text-anchor="middle" fill="#1a1a1a" stroke="#1a1a1a" stroke-width="0.22">2</text>
<text transform="translate(385.2,205.45) scale(1,1.08)" font-size="7.6" text-anchor="end" fill="#1a1a1a" stroke="#1a1a1a" stroke-width="0.22">SMARCA4</text>
<rect x="397.50" y="207.80" width="6.65" height="7.50" fill="#63AD3F"/>
<rect x="412.40" y="207.80" width="6.85" height="7.50" fill="#63AD3F"/>
<text transform="translate(502.40,214.25) scale(1,1.08)" font-size="7.7" text-anchor="middle" fill="#1a1a1a" stroke="#1a1a1a" stroke-width="0.22">2</text>
<text transform="translate(385.2,214.15) scale(1,1.08)" font-size="7.6" text-anchor="end" fill="#1a1a1a" stroke="#1a1a1a" stroke-width="0.22">SYT15</text>
<rect x="389.20" y="216.30" width="7.30" height="7.80" fill="#63AD3F"/>
<text transform="translate(502.40,222.90) scale(1,1.08)" font-size="7.7" text-anchor="middle" fill="#1a1a1a" stroke="#1a1a1a" stroke-width="0.22">1</text>
<text transform="translate(385.2,222.80) scale(1,1.08)" font-size="7.6" text-anchor="end" fill="#1a1a1a" stroke="#1a1a1a" stroke-width="0.22">ALS2CL</text>
<rect x="459.20" y="225.10" width="6.60" height="7.80" fill="#63AD3F"/>
<text transform="translate(502.40,231.70) scale(1,1.08)" font-size="7.7" text-anchor="middle" fill="#1a1a1a" stroke="#1a1a1a" stroke-width="0.22">1</text>
<text transform="translate(385.2,231.60) scale(1,1.08)" font-size="7.6" text-anchor="end" fill="#1a1a1a" stroke="#1a1a1a" stroke-width="0.22">APOB</text>
<rect x="389.20" y="233.90" width="7.30" height="7.60" fill="#63AD3F"/>
<text transform="translate(502.40,240.40) scale(1,1.08)" font-size="7.7" text-anchor="middle" fill="#1a1a1a" stroke="#1a1a1a" stroke-width="0.22">1</text>
<text transform="translate(385.2,240.30) scale(1,1.08)" font-size="7.6" text-anchor="end" fill="#1a1a1a" stroke="#1a1a1a" stroke-width="0.22">CD70</text>
<rect x="436.00" y="242.50" width="6.60" height="7.60" fill="#F2BD1B"/>
<text transform="translate(502.40,249.00) scale(1,1.08)" font-size="7.7" text-anchor="middle" fill="#1a1a1a" stroke="#1a1a1a" stroke-width="0.22">1</text>
<text transform="translate(385.2,248.90) scale(1,1.08)" font-size="7.6" text-anchor="end" fill="#1a1a1a" stroke="#1a1a1a" stroke-width="0.22">CHD7</text>
<rect x="466.80" y="251.10" width="7.10" height="7.60" fill="#63AD3F"/>
<text transform="translate(502.40,257.60) scale(1,1.08)" font-size="7.7" text-anchor="middle" fill="#1a1a1a" stroke="#1a1a1a" stroke-width="0.22">1</text>
<text transform="translate(385.2,257.50) scale(1,1.08)" font-size="7.6" text-anchor="end" fill="#1a1a1a" stroke="#1a1a1a" stroke-width="0.22">CIITA</text>
<rect x="389.20" y="259.70" width="7.30" height="8.50" fill="#63AD3F"/>
<text transform="translate(502.40,266.65) scale(1,1.08)" font-size="7.7" text-anchor="middle" fill="#1a1a1a" stroke="#1a1a1a" stroke-width="0.22">1</text>
<text transform="translate(385.2,266.55) scale(1,1.08)" font-size="7.6" text-anchor="end" fill="#1a1a1a" stroke="#1a1a1a" stroke-width="0.22">DIS3</text>
<rect x="405.15" y="269.20" width="6.25" height="7.80" fill="#63AD3F"/>
<text transform="translate(502.40,275.80) scale(1,1.08)" font-size="7.7" text-anchor="middle" fill="#1a1a1a" stroke="#1a1a1a" stroke-width="0.22">1</text>
<text transform="translate(385.2,275.70) scale(1,1.08)" font-size="7.6" text-anchor="end" fill="#1a1a1a" stroke="#1a1a1a" stroke-width="0.22">FAT3</text>
<rect x="389.20" y="278.00" width="7.30" height="8.20" fill="#63AD3F"/>
<text transform="translate(502.40,284.80) scale(1,1.08)" font-size="7.7" text-anchor="middle" fill="#1a1a1a" stroke="#1a1a1a" stroke-width="0.22">1</text>
<text transform="translate(385.2,284.70) scale(1,1.08)" font-size="7.6" text-anchor="end" fill="#1a1a1a" stroke="#1a1a1a" stroke-width="0.22">FLNC</text>
<rect x="459.20" y="287.20" width="6.60" height="7.80" fill="#63AD3F"/>
<text transform="translate(502.40,293.80) scale(1,1.08)" font-size="7.7" text-anchor="middle" fill="#1a1a1a" stroke="#1a1a1a" stroke-width="0.22">1</text>
<text transform="translate(385.2,293.70) scale(1,1.08)" font-size="7.6" text-anchor="end" fill="#1a1a1a" stroke="#1a1a1a" stroke-width="0.22">HIST1H1D</text>
<rect x="459.20" y="296.00" width="6.60" height="7.50" fill="#63AD3F"/>
<text transform="translate(502.40,302.45) scale(1,1.08)" font-size="7.7" text-anchor="middle" fill="#1a1a1a" stroke="#1a1a1a" stroke-width="0.22">1</text>
<text transform="translate(385.2,302.35) scale(1,1.08)" font-size="7.6" text-anchor="end" fill="#1a1a1a" stroke="#1a1a1a" stroke-width="0.22">HYDIN</text>
<rect x="459.20" y="304.50" width="6.60" height="8.30" fill="#63AD3F"/>
<text transform="translate(502.40,311.35) scale(1,1.08)" font-size="7.7" text-anchor="middle" fill="#1a1a1a" stroke="#1a1a1a" stroke-width="0.22">1</text>
<text transform="translate(385.2,311.25) scale(1,1.08)" font-size="7.6" text-anchor="end" fill="#1a1a1a" stroke="#1a1a1a" stroke-width="0.22">ITCH</text>
<rect x="428.60" y="313.80" width="6.40" height="7.70" fill="#63AD3F"/>
<text transform="translate(502.40,320.35) scale(1,1.08)" font-size="7.7" text-anchor="middle" fill="#1a1a1a" stroke="#1a1a1a" stroke-width="0.22">1</text>
<text transform="translate(385.2,320.25) scale(1,1.08)" font-size="7.6" text-anchor="end" fill="#1a1a1a" stroke="#1a1a1a" stroke-width="0.22">KAR5</text>
<rect x="466.80" y="322.50" width="7.10" height="7.50" fill="#63AD3F"/>
<text transform="translate(502.40,328.95) scale(1,1.08)" font-size="7.7" text-anchor="middle" fill="#1a1a1a" stroke="#1a1a1a" stroke-width="0.22">1</text>
<text transform="translate(385.2,328.85) scale(1,1.08)" font-size="7.6" text-anchor="end" fill="#1a1a1a" stroke="#1a1a1a" stroke-width="0.22">KLHL6</text>
<rect x="451.10" y="331.00" width="7.10" height="7.80" fill="#63AD3F"/>
<text transform="translate(502.40,337.60) scale(1,1.08)" font-size="7.7" text-anchor="middle" fill="#1a1a1a" stroke="#1a1a1a" stroke-width="0.22">1</text>
<text transform="translate(385.2,337.50) scale(1,1.08)" font-size="7.6" text-anchor="end" fill="#1a1a1a" stroke="#1a1a1a" stroke-width="0.22">KMT2C</text>
<rect x="451.10" y="339.80" width="7.10" height="7.50" fill="#63AD3F"/>
<text transform="translate(502.40,346.25) scale(1,1.08)" font-size="7.7" text-anchor="middle" fill="#1a1a1a" stroke="#1a1a1a" stroke-width="0.22">1</text>
<text transform="translate(385.2,346.15) scale(1,1.08)" font-size="7.6" text-anchor="end" fill="#1a1a1a" stroke="#1a1a1a" stroke-width="0.22">KMT2D</text>
<rect x="436.00" y="348.30" width="6.60" height="7.50" fill="#63AD3F"/>
<text transform="translate(502.40,354.75) scale(1,1.08)" font-size="7.7" text-anchor="middle" fill="#1a1a1a" stroke="#1a1a1a" stroke-width="0.22">1</text>
<text transform="translate(385.2,354.65) scale(1,1.08)" font-size="7.6" text-anchor="end" fill="#1a1a1a" stroke="#1a1a1a" stroke-width="0.22">LRP2</text>
<rect x="405.15" y="356.80" width="6.25" height="7.80" fill="#63AD3F"/>
<text transform="translate(502.40,363.40) scale(1,1.08)" font-size="7.7" text-anchor="middle" fill="#1a1a1a" stroke="#1a1a1a" stroke-width="0.22">1</text>
<text transform="translate(385.2,363.30) scale(1,1.08)" font-size="7.6" text-anchor="end" fill="#1a1a1a" stroke="#1a1a1a" stroke-width="0.22">MDN1</text>
<rect x="483.75" y="365.60" width="7.25" height="7.80" fill="#63AD3F"/>
<text transform="translate(502.40,372.20) scale(1,1.08)" font-size="7.7" text-anchor="middle" fill="#1a1a1a" stroke="#1a1a1a" stroke-width="0.22">1</text>
<text transform="translate(385.2,372.10) scale(1,1.08)" font-size="7.6" text-anchor="end" fill="#1a1a1a" stroke="#1a1a1a" stroke-width="0.22">MEF2B</text>
<rect x="436.00" y="374.40" width="6.60" height="7.70" fill="#63AD3F"/>
<text transform="translate(502.40,380.95) scale(1,1.08)" font-size="7.7" text-anchor="middle" fill="#1a1a1a" stroke="#1a1a1a" stroke-width="0.22">1</text>
<text transform="translate(385.2,380.85) scale(1,1.08)" font-size="7.6" text-anchor="end" fill="#1a1a1a" stroke="#1a1a1a" stroke-width="0.22">NALCN</text>
<rect x="405.15" y="383.10" width="6.25" height="6.70" fill="#F2BD1B"/>
<text transform="translate(502.40,389.15) scale(1,1.08)" font-size="7.7" text-anchor="middle" fill="#1a1a1a" stroke="#1a1a1a" stroke-width="0.22">1</text>
<text transform="translate(385.2,389.05) scale(1,1.08)" font-size="7.6" text-anchor="end" fill="#1a1a1a" stroke="#1a1a1a" stroke-width="0.22">NOTCH2</text>
<rect x="436.00" y="390.80" width="6.60" height="7.30" fill="#F2BD1B"/>
<text transform="translate(502.40,397.15) scale(1,1.08)" font-size="7.7" text-anchor="middle" fill="#1a1a1a" stroke="#1a1a1a" stroke-width="0.22">1</text>
<text transform="translate(385.2,397.05) scale(1,1.08)" font-size="7.6" text-anchor="end" fill="#1a1a1a" stroke="#1a1a1a" stroke-width="0.22">PIK3C2G</text>
<rect x="428.60" y="399.10" width="6.40" height="7.90" fill="#63AD3F"/>
<text transform="translate(502.40,405.75) scale(1,1.08)" font-size="7.7" text-anchor="middle" fill="#1a1a1a" stroke="#1a1a1a" stroke-width="0.22">1</text>
<text transform="translate(385.2,405.65) scale(1,1.08)" font-size="7.6" text-anchor="end" fill="#1a1a1a" stroke="#1a1a1a" stroke-width="0.22">PKHD1</text>
<rect x="474.90" y="408.00" width="7.85" height="7.60" fill="#63AD3F"/>
<text transform="translate(502.40,414.50) scale(1,1.08)" font-size="7.7" text-anchor="middle" fill="#1a1a1a" stroke="#1a1a1a" stroke-width="0.22">1</text>
<text transform="translate(385.2,414.40) scale(1,1.08)" font-size="7.6" text-anchor="end" fill="#1a1a1a" stroke="#1a1a1a" stroke-width="0.22">PTPN23</text>
<rect x="389.20" y="416.60" width="7.30" height="7.80" fill="#63AD3F"/>
<text transform="translate(502.40,423.20) scale(1,1.08)" font-size="7.7" text-anchor="middle" fill="#1a1a1a" stroke="#1a1a1a" stroke-width="0.22">1</text>
<text transform="translate(385.2,423.10) scale(1,1.08)" font-size="7.6" text-anchor="end" fill="#1a1a1a" stroke="#1a1a1a" stroke-width="0.22">ROBO1</text>
<rect x="474.90" y="425.40" width="7.85" height="7.80" fill="#63AD3F"/>
<text transform="translate(502.40,432.00) scale(1,1.08)" font-size="7.7" text-anchor="middle" fill="#1a1a1a" stroke="#1a1a1a" stroke-width="0.22">1</text>
<text transform="translate(385.2,431.90) scale(1,1.08)" font-size="7.6" text-anchor="end" fill="#1a1a1a" stroke="#1a1a1a" stroke-width="0.22">SCHROOM3</text>
<rect x="405.15" y="434.20" width="6.25" height="7.60" fill="#63AD3F"/>
<text transform="translate(502.40,440.70) scale(1,1.08)" font-size="7.7" text-anchor="middle" fill="#1a1a1a" stroke="#1a1a1a" stroke-width="0.22">1</text>
<text transform="translate(385.2,440.60) scale(1,1.08)" font-size="7.6" text-anchor="end" fill="#1a1a1a" stroke="#1a1a1a" stroke-width="0.22">SETD1A</text>
<rect x="474.90" y="442.80" width="7.85" height="7.80" fill="#63AD3F"/>
<text transform="translate(502.40,449.40) scale(1,1.08)" font-size="7.7" text-anchor="middle" fill="#1a1a1a" stroke="#1a1a1a" stroke-width="0.22">1</text>
<text transform="translate(385.2,449.30) scale(1,1.08)" font-size="7.6" text-anchor="end" fill="#1a1a1a" stroke="#1a1a1a" stroke-width="0.22">SPTBN5</text>
<rect x="451.10" y="451.60" width="7.10" height="7.30" fill="#63AD3F"/>
<text transform="translate(502.40,457.95) scale(1,1.08)" font-size="7.7" text-anchor="middle" fill="#1a1a1a" stroke="#1a1a1a" stroke-width="0.22">1</text>
<text transform="translate(385.2,457.85) scale(1,1.08)" font-size="7.6" text-anchor="end" fill="#1a1a1a" stroke="#1a1a1a" stroke-width="0.22">STAB1</text>
<rect x="389.20" y="459.90" width="7.30" height="7.80" fill="#F2BD1B"/>
<text transform="translate(502.40,466.50) scale(1,1.08)" font-size="7.7" text-anchor="middle" fill="#1a1a1a" stroke="#1a1a1a" stroke-width="0.22">1</text>
<text transform="translate(385.2,466.40) scale(1,1.08)" font-size="7.6" text-anchor="end" fill="#1a1a1a" stroke="#1a1a1a" stroke-width="0.22">STARD9</text>
<rect x="405.15" y="468.70" width="6.25" height="7.70" fill="#63AD3F"/>
<text transform="translate(502.40,475.25) scale(1,1.08)" font-size="7.7" text-anchor="middle" fill="#1a1a1a" stroke="#1a1a1a" stroke-width="0.22">1</text>
<text transform="translate(385.2,475.15) scale(1,1.08)" font-size="7.6" text-anchor="end" fill="#1a1a1a" stroke="#1a1a1a" stroke-width="0.22">TPTE</text>
<rect x="474.90" y="477.40" width="7.85" height="8.20" fill="#63AD3F"/>
<text transform="translate(502.40,484.20) scale(1,1.08)" font-size="7.7" text-anchor="middle" fill="#1a1a1a" stroke="#1a1a1a" stroke-width="0.22">1</text>
<text transform="translate(385.2,484.10) scale(1,1.08)" font-size="7.6" text-anchor="end" fill="#1a1a1a" stroke="#1a1a1a" stroke-width="0.22">TRPM6</text>
<rect x="428.60" y="486.60" width="6.40" height="7.60" fill="#63AD3F"/>
<text transform="translate(502.40,493.10) scale(1,1.08)" font-size="7.7" text-anchor="middle" fill="#1a1a1a" stroke="#1a1a1a" stroke-width="0.22">1</text>
<text transform="translate(385.2,493.00) scale(1,1.08)" font-size="7.6" text-anchor="end" fill="#1a1a1a" stroke="#1a1a1a" stroke-width="0.22">UBAP2</text>
<rect x="451.10" y="495.20" width="7.10" height="7.60" fill="#63AD3F"/>
<text transform="translate(502.40,501.70) scale(1,1.08)" font-size="7.7" text-anchor="middle" fill="#1a1a1a" stroke="#1a1a1a" stroke-width="0.22">1</text>
<text transform="translate(385.2,501.60) scale(1,1.08)" font-size="7.6" text-anchor="end" fill="#1a1a1a" stroke="#1a1a1a" stroke-width="0.22">UPF1</text>
<rect x="428.60" y="503.80" width="6.40" height="6.90" fill="#63AD3F"/>
<text transform="translate(502.40,509.95) scale(1,1.08)" font-size="7.7" text-anchor="middle" fill="#1a1a1a" stroke="#1a1a1a" stroke-width="0.22">1</text>
<text transform="translate(385.2,509.85) scale(1,1.08)" font-size="7.6" text-anchor="end" fill="#1a1a1a" stroke="#1a1a1a" stroke-width="0.22">UROC1</text>
<rect x="466.80" y="511.70" width="7.10" height="7.20" fill="#F2BD1B"/>
<text transform="translate(502.40,518.00) scale(1,1.08)" font-size="7.7" text-anchor="middle" fill="#1a1a1a" stroke="#1a1a1a" stroke-width="0.22">1</text>
<text transform="translate(385.2,517.90) scale(1,1.08)" font-size="7.6" text-anchor="end" fill="#1a1a1a" stroke="#1a1a1a" stroke-width="0.22">XPB1</text>
<rect x="389.20" y="519.90" width="7.30" height="7.80" fill="#63AD3F"/>
<text transform="translate(502.40,526.50) scale(1,1.08)" font-size="7.7" text-anchor="middle" fill="#1a1a1a" stroke="#1a1a1a" stroke-width="0.22">1</text>
<text transform="translate(385.2,526.40) scale(1,1.08)" font-size="7.6" text-anchor="end" fill="#1a1a1a" stroke="#1a1a1a" stroke-width="0.22">YY1</text>
<text transform="translate(385.2,534.75) scale(1,1.08)" font-size="7.7" text-anchor="end" fill="#1a1a1a" stroke="#1a1a1a" stroke-width="0.22">Total</text>
<text transform="translate(392.85,534.85) scale(1,1.08)" font-size="7.0" text-anchor="middle" textLength="6.9" lengthAdjust="spacingAndGlyphs" fill="#1a1a1a" stroke="#1a1a1a" stroke-width="0.22">12</text>
<text transform="translate(400.82,534.85) scale(1,1.08)" font-size="7.0" text-anchor="middle" textLength="6.9" lengthAdjust="spacingAndGlyphs" fill="#1a1a1a" stroke="#1a1a1a" stroke-width="0.22">11</text>
<text transform="translate(408.27,534.85) scale(1,1.08)" font-size="7.0" text-anchor="middle" textLength="6.9" lengthAdjust="spacingAndGlyphs" fill="#1a1a1a" stroke="#1a1a1a" stroke-width="0.22">10</text>
<text transform="translate(415.82,534.85) scale(1,1.08)" font-size="7.0" text-anchor="middle" textLength="6.9" lengthAdjust="spacingAndGlyphs" fill="#1a1a1a" stroke="#1a1a1a" stroke-width="0.22">10</text>
<text transform="translate(423.93,534.85) scale(1,1.08)" font-size="7.0" text-anchor="middle" textLength="3.7" lengthAdjust="spacingAndGlyphs" fill="#1a1a1a" stroke="#1a1a1a" stroke-width="0.22">9</text>
<text transform="translate(431.80,534.85) scale(1,1.08)" font-size="7.0" text-anchor="middle" textLength="3.7" lengthAdjust="spacingAndGlyphs" fill="#1a1a1a" stroke="#1a1a1a" stroke-width="0.22">9</text>
<text transform="translate(439.30,534.85) scale(1,1.08)" font-size="7.0" text-anchor="middle" textLength="3.7" lengthAdjust="spacingAndGlyphs" fill="#1a1a1a" stroke="#1a1a1a" stroke-width="0.22">9</text>
<text transform="translate(446.85,534.85) scale(1,1.08)" font-size="7.0" text-anchor="middle" textLength="3.7" lengthAdjust="spacingAndGlyphs" fill="#1a1a1a" stroke="#1a1a1a" stroke-width="0.22">9</text>
<text transform="translate(454.65,534.85) scale(1,1.08)" font-size="7.0" text-anchor="middle" textLength="3.7" lengthAdjust="spacingAndGlyphs" fill="#1a1a1a" stroke="#1a1a1a" stroke-width="0.22">8</text>
<text transform="translate(462.50,534.85) scale(1,1.08)" font-size="7.0" text-anchor="middle" textLength="3.7" lengthAdjust="spacingAndGlyphs" fill="#1a1a1a" stroke="#1a1a1a" stroke-width="0.22">7</text>
<text transform="translate(470.35,534.85) scale(1,1.08)" font-size="7.0" text-anchor="middle" textLength="3.7" lengthAdjust="spacingAndGlyphs" fill="#1a1a1a" stroke="#1a1a1a" stroke-width="0.22">5</text>
<text transform="translate(478.82,534.85) scale(1,1.08)" font-size="7.0" text-anchor="middle" textLength="3.7" lengthAdjust="spacingAndGlyphs" fill="#1a1a1a" stroke="#1a1a1a" stroke-width="0.22">5</text>
<text transform="translate(487.38,534.85) scale(1,1.08)" font-size="7.0" text-anchor="middle" textLength="3.7" lengthAdjust="spacingAndGlyphs" fill="#1a1a1a" stroke="#1a1a1a" stroke-width="0.22">4</text>
<text transform="translate(502.1,27.7)" font-size="7.6" text-anchor="middle" textLength="17.6" lengthAdjust="spacingAndGlyphs" fill="#1a1a1a" stroke="#1a1a1a" stroke-width="0.22">Total</text>
<line x1="43.2" y1="159.2" x2="43.2" y2="237.6" stroke="#000" stroke-width="1"/>
<line x1="43.2" y1="237.6" x2="127" y2="237.6" stroke="#000" stroke-width="1"/>
<line x1="41" y1="237.60" x2="43.2" y2="237.60" stroke="#000" stroke-width="0.9"/>
<text transform="translate(37.4,240.40) scale(1,1.08)" font-size="7.8" text-anchor="end" fill="#1a1a1a" stroke="#1a1a1a" stroke-width="0.22">0</text>
<line x1="41" y1="212.35" x2="43.2" y2="212.35" stroke="#000" stroke-width="0.9"/>
<text transform="translate(37.4,215.15) scale(1,1.08)" font-size="7.8" text-anchor="end" fill="#1a1a1a" stroke="#1a1a1a" stroke-width="0.22">1</text>
<line x1="41" y1="187.10" x2="43.2" y2="187.10" stroke="#000" stroke-width="0.9"/>
<text transform="translate(37.4,189.90) scale(1,1.08)" font-size="7.8" text-anchor="end" fill="#1a1a1a" stroke="#1a1a1a" stroke-width="0.22">2</text>
<line x1="41" y1="161.85" x2="43.2" y2="161.85" stroke="#000" stroke-width="0.9"/>
<text transform="translate(37.4,164.65) scale(1,1.08)" font-size="7.8" text-anchor="end" fill="#1a1a1a" stroke="#1a1a1a" stroke-width="0.22">3</text>
<text transform="translate(27.8,198.5) rotate(-90) scale(1,1.08)" font-size="9.4" text-anchor="middle" textLength="66" lengthAdjust="spacingAndGlyphs" fill="#1a1a1a" stroke="#1a1a1a" stroke-width="0.22">Relative expression</text>
<line x1="52.30" y1="212.35" x2="52.30" y2="215.13" stroke="#111" stroke-width="0.9"/>
<line x1="50.10" y1="212.35" x2="54.50" y2="212.35" stroke="#111" stroke-width="0.9"/>
<rect x="48.0" y="215.13" width="8.6" height="22.47" fill="#a8002c" stroke="#222" stroke-width="0.4"/>
<line x1="52.30" y1="237.6" x2="52.30" y2="239.6" stroke="#000" stroke-width="0.9"/>
<line x1="65.50" y1="189.37" x2="65.50" y2="196.69" stroke="#111" stroke-width="0.9"/>
<line x1="63.30" y1="189.37" x2="67.70" y2="189.37" stroke="#111" stroke-width="0.9"/>
<rect x="61.2" y="196.69" width="8.6" height="40.91" fill="#2b4b8c" stroke="#222" stroke-width="0.4"/>
<line x1="65.50" y1="237.6" x2="65.50" y2="239.6" stroke="#000" stroke-width="0.9"/>
<line x1="78.60" y1="196.69" x2="78.60" y2="199.98" stroke="#111" stroke-width="0.9"/>
<line x1="76.40" y1="196.69" x2="80.80" y2="196.69" stroke="#111" stroke-width="0.9"/>
<rect x="74.3" y="199.98" width="8.6" height="37.62" fill="#69ae4a" stroke="#222" stroke-width="0.4"/>
<line x1="78.60" y1="237.6" x2="78.60" y2="239.6" stroke="#000" stroke-width="0.9"/>
<line x1="91.50" y1="201.24" x2="91.50" y2="212.35" stroke="#111" stroke-width="0.9"/>
<line x1="89.30" y1="201.24" x2="93.70" y2="201.24" stroke="#111" stroke-width="0.9"/>
<rect x="87.2" y="212.35" width="8.6" height="25.25" fill="#4a2168" stroke="#222" stroke-width="0.4"/>
<line x1="91.50" y1="237.6" x2="91.50" y2="239.6" stroke="#000" stroke-width="0.9"/>
<line x1="104.70" y1="190.38" x2="104.70" y2="199.98" stroke="#111" stroke-width="0.9"/>
<line x1="102.50" y1="190.38" x2="106.90" y2="190.38" stroke="#111" stroke-width="0.9"/>
<rect x="100.4" y="199.98" width="8.6" height="37.62" fill="#e8961a" stroke="#222" stroke-width="0.4"/>
<line x1="104.70" y1="237.6" x2="104.70" y2="239.6" stroke="#000" stroke-width="0.9"/>
<line x1="117.80" y1="166.65" x2="117.80" y2="180.79" stroke="#111" stroke-width="0.9"/>
<line x1="115.60" y1="166.65" x2="120.00" y2="166.65" stroke="#111" stroke-width="0.9"/>
<rect x="113.5" y="180.79" width="8.6" height="56.81" fill="#2e6a4c" stroke="#222" stroke-width="0.4"/>
<line x1="117.80" y1="237.6" x2="117.80" y2="239.6" stroke="#000" stroke-width="0.9"/>
<text transform="translate(54.00,245.50) rotate(-45) scale(1,1.08)" font-size="7.9" text-anchor="end" fill="#1a1a1a" stroke="#1a1a1a" stroke-width="0.22" dy="2.6">Pro</text>
<text transform="translate(67.20,246.10) rotate(-45) scale(1,1.08)" font-size="7.9" text-anchor="end" fill="#1a1a1a" stroke="#1a1a1a" stroke-width="0.22" dy="2.6">Pre</text>
<text transform="translate(80.30,246.60) rotate(-45) scale(1,1.08)" font-size="7.9" text-anchor="end" fill="#1a1a1a" stroke="#1a1a1a" stroke-width="0.22" dy="2.6">Immature</text>
<text transform="translate(93.10,246.60) rotate(-45) scale(1,1.08)" font-size="7.9" text-anchor="end" fill="#1a1a1a" stroke="#1a1a1a" stroke-width="0.22" dy="2.6">Transitional</text>
<text transform="translate(105.80,246.60) rotate(-45) scale(1,1.08)" font-size="7.9" text-anchor="end" fill="#1a1a1a" stroke="#1a1a1a" stroke-width="0.22" dy="2.6">Marginal</text>
<text transform="translate(119.40,247.00) rotate(-45) scale(1,1.08)" font-size="7.9" text-anchor="end" fill="#1a1a1a" stroke="#1a1a1a" stroke-width="0.22" dy="2.6">Follicular</text>
<text transform="translate(187.80,197.8) rotate(-45) scale(1,1.08)" font-size="8.2" fill="#1a1a1a" stroke="#1a1a1a" stroke-width="0.22">Pro</text>
<text transform="translate(202.20,197.8) rotate(-45) scale(1,1.08)" font-size="8.2" fill="#1a1a1a" stroke="#1a1a1a" stroke-width="0.22">Pre</text>
<text transform="translate(217.60,197.8) rotate(-45) scale(1,1.08)" font-size="8.2" fill="#1a1a1a" stroke="#1a1a1a" stroke-width="0.22">Immature</text>
<text transform="translate(233.00,197.8) rotate(-45) scale(1,1.08)" font-size="8.2" fill="#1a1a1a" stroke="#1a1a1a" stroke-width="0.22">Transitional</text>
<text transform="translate(246.50,197.8) rotate(-45) scale(1,1.08)" font-size="8.2" fill="#1a1a1a" stroke="#1a1a1a" stroke-width="0.22">Marginal</text>
<text transform="translate(261.90,197.8) rotate(-45) scale(1,1.08)" font-size="8.2" fill="#1a1a1a" stroke="#1a1a1a" stroke-width="0.22">Follicular</text>
<text transform="translate(154.0,200.8) scale(1,1.08)" font-size="7.8" textLength="14.6" lengthAdjust="spacingAndGlyphs" fill="#1a1a1a" stroke="#1a1a1a" stroke-width="0.22">kDa</text>
<text transform="translate(167.6,213.6) scale(1,1.08)" font-size="7.8" text-anchor="end" fill="#1a1a1a" stroke="#1a1a1a" stroke-width="0.22">300</text>
<line x1="171" y1="211.2" x2="176.5" y2="211.2" stroke="#222" stroke-width="0.9"/>
<text transform="translate(167.6,221.6) scale(1,1.08)" font-size="7.8" text-anchor="end" fill="#1a1a1a" stroke="#1a1a1a" stroke-width="0.22">250</text>
<line x1="171" y1="219.2" x2="176.5" y2="219.2" stroke="#222" stroke-width="0.9"/>
<text transform="translate(167.6,229.1) scale(1,1.08)" font-size="7.8" text-anchor="end" fill="#1a1a1a" stroke="#1a1a1a" stroke-width="0.22">50</text>
<line x1="171" y1="226.8" x2="176.5" y2="226.8" stroke="#222" stroke-width="0.9"/>
<text transform="translate(167.6,239.4) scale(1,1.08)" font-size="7.8" text-anchor="end" fill="#1a1a1a" stroke="#1a1a1a" stroke-width="0.22">40</text>
<line x1="171" y1="237.0" x2="176.5" y2="237.0" stroke="#222" stroke-width="0.9"/>
<defs><linearGradient id="blot1" x1="0" x2="0" y1="0" y2="1"><stop offset="0" stop-color="#aeaeae"/><stop offset="1" stop-color="#a8a8a8"/></linearGradient><filter id="bl" x="-50%" y="-50%" width="200%" height="200%"><feGaussianBlur stdDeviation="0.45"/></filter></defs>
<rect x="179.7" y="201.8" width="92.8" height="18.3" fill="url(#blot1)"/>
<rect x="179.7" y="222.5" width="92.8" height="18.2" fill="url(#blot1)"/>
<rect x="197.50" y="210.10" width="11.20" height="2.60" rx="1.30" fill="#1c1c1c" filter="url(#bl)"/>
<rect x="211.20" y="210.30" width="11.50" height="2.40" rx="1.20" fill="#222" filter="url(#bl)"/>
<rect x="226.40" y="210.80" width="10.80" height="2.00" rx="1.00" fill="#333" filter="url(#bl)"/>
<rect x="240.40" y="209.90" width="12.50" height="3.40" rx="1.70" fill="#141414" filter="url(#bl)"/>
<rect x="254.80" y="209.20" width="12.00" height="4.00" rx="2.00" fill="#111" filter="url(#bl)"/>
<path d="M256,213 q4,4 9,5 q-5,0 -9,-5 Z" fill="#555" opacity="0.4" filter="url(#bl)"/>
<rect x="183.5" y="210.6" width="11" height="1.6" rx="0.8" fill="#8e8e8e" opacity="0.5" filter="url(#bl)"/>
<rect x="180.80" y="232.00" width="15.20" height="3.00" rx="1.50" fill="#151515" filter="url(#bl)"/>
<rect x="196.20" y="232.05" width="14.60" height="2.90" rx="1.45" fill="#151515" filter="url(#bl)"/>
<rect x="210.80" y="232.05" width="14.60" height="2.90" rx="1.45" fill="#151515" filter="url(#bl)"/>
<rect x="225.40" y="232.05" width="14.60" height="2.90" rx="1.45" fill="#151515" filter="url(#bl)"/>
<rect x="240.00" y="232.00" width="14.60" height="3.00" rx="1.50" fill="#151515" filter="url(#bl)"/>
<rect x="254.60" y="231.70" width="13.80" height="3.60" rx="1.80" fill="#151515" filter="url(#bl)"/>
<text transform="translate(276.2,214.8) scale(1,1.08)" font-size="7.8" textLength="28.0" lengthAdjust="spacingAndGlyphs" fill="#1a1a1a" stroke="#1a1a1a" stroke-width="0.22">α-UBR5</text>
<text transform="translate(276.2,234.0) scale(1,1.08)" font-size="7.8" textLength="31.9" lengthAdjust="spacingAndGlyphs" fill="#1a1a1a" stroke="#1a1a1a" stroke-width="0.22">α-ACTIN</text>
<text transform="translate(19,324.4) scale(1,1.08)" font-size="7.9" textLength="58.8" lengthAdjust="spacingAndGlyphs" fill="#1a1a1a" stroke="#1a1a1a" stroke-width="0.22">Wild-type Allele</text>
<text transform="translate(19,360.0) scale(1,1.08)" font-size="7.9" textLength="90.5" lengthAdjust="spacingAndGlyphs" fill="#1a1a1a" stroke="#1a1a1a" stroke-width="0.22"><tspan font-style="italic">Ubr5</tspan> ssDNA Repair Donor</text>
<text transform="translate(19,396.8) scale(1,1.08)" font-size="7.9" textLength="55.6" lengthAdjust="spacingAndGlyphs" fill="#1a1a1a" stroke="#1a1a1a" stroke-width="0.22">Targeted Allele</text>
<line x1="113" y1="321.4" x2="262" y2="321.4" stroke="#222" stroke-width="0.8"/>
<rect x="89.05" y="313.95" width="23.80" height="15.20" fill="#2b4a8b" stroke="#1e3a78" stroke-width="0.5"/>
<text transform="translate(100.95,324.05) scale(1,1.08)" font-size="7.2" text-anchor="middle" textLength="22.6" lengthAdjust="spacingAndGlyphs" fill="#e6eaf2" stroke="#e6eaf2" stroke-width="0.08">Exon 57</text>
<rect x="184.05" y="313.95" width="15.30" height="15.20" fill="#2b4a8b" stroke="#1e3a78" stroke-width="0.5"/>
<text transform="translate(191.70,324.05) scale(1,1.08)" font-size="7.2" text-anchor="middle" textLength="7.2" lengthAdjust="spacingAndGlyphs" fill="#e6eaf2" stroke="#e6eaf2" stroke-width="0.08">58</text>
<rect x="261.75" y="314.05" width="23.80" height="15.10" fill="#2b4a8b" stroke="#1e3a78" stroke-width="0.5"/>
<text transform="translate(273.65,324.10) scale(1,1.08)" font-size="7.2" text-anchor="middle" textLength="22.6" lengthAdjust="spacingAndGlyphs" fill="#e6eaf2" stroke="#e6eaf2" stroke-width="0.08">Exon 59</text>
<rect x="121.9" y="323.6" width="29.6" height="6.4" fill="#6ab04c"/>
<rect x="227.2" y="323.4" width="29.4" height="6.6" fill="#4e2872"/>
<text transform="translate(136.7,310.4) scale(1,1.08)" font-size="7.6" text-anchor="middle" textLength="38.6" lengthAdjust="spacingAndGlyphs" fill="#1a1a1a" stroke="#1a1a1a" stroke-width="0.22">Left sgRNA</text>
<text transform="translate(136.7,319.0) scale(1,1.08)" font-size="7.6" text-anchor="middle" textLength="24.3" lengthAdjust="spacingAndGlyphs" fill="#1a1a1a" stroke="#1a1a1a" stroke-width="0.22">cut site</text>
<text transform="translate(241.6,310.4) scale(1,1.08)" font-size="7.6" text-anchor="middle" textLength="43.4" lengthAdjust="spacingAndGlyphs" fill="#1a1a1a" stroke="#1a1a1a" stroke-width="0.22">Right sgRNA</text>
<text transform="translate(242.2,319.0) scale(1,1.08)" font-size="7.6" text-anchor="middle" textLength="24.3" lengthAdjust="spacingAndGlyphs" fill="#1a1a1a" stroke="#1a1a1a" stroke-width="0.22">cut site</text>
<path d="M149,313.3 C150,311.6 151.6,310.7 152.6,310.9 C154,311.3 154.4,313 154.3,314.6 C154.5,316.4 155.2,318.4 156,319.7 C154.2,319.6 152.2,318.2 151.2,316.3 C150.4,315.2 149.6,314.1 149,313.3 Z" transform="translate(0,0)" fill="#e8931c"/>
<path d="M149,313.3 C150,311.6 151.6,310.7 152.6,310.9 C154,311.3 154.4,313 154.3,314.6 C154.5,316.4 155.2,318.4 156,319.7 C154.2,319.6 152.2,318.2 151.2,316.3 C150.4,315.2 149.6,314.1 149,313.3 Z" transform="translate(70,0)" fill="#e8931c"/>
<line x1="118.45" y1="330.7" x2="118.45" y2="346.5" stroke="#222" stroke-width="1.15" stroke-dasharray="3.1,2.3"/>
<path d="M116.1,347.1 L120.8,347.1 L118.45,352.0 Z" fill="#111"/>
<line x1="259.8" y1="331.0" x2="259.8" y2="346.5" stroke="#333" stroke-width="1.15" stroke-dasharray="3.0,2.4"/>
<path d="M257.6,347.1 L262.0,347.1 L259.8,351.8 Z" fill="#111"/>
<line x1="126" y1="338.55" x2="250" y2="338.55" stroke="#111" stroke-width="0.9"/>
<path d="M122.8,338.55 L127.9,336.35 L127.9,340.75 Z" fill="#111"/>
<path d="M253.4,338.55 L248.5,336.35 L248.5,340.75 Z" fill="#111"/>
<rect x="169.8" y="333.1" width="43.9" height="10.8" fill="#e8931c"/>
<text transform="translate(191.6,341.0) scale(1,1.08)" font-size="7.2" text-anchor="middle" textLength="29.4" lengthAdjust="spacingAndGlyphs" fill="#1a1a1a" stroke="#1a1a1a" stroke-width="0.22">699 bases</text>
<text transform="translate(122.1,348.2) scale(1,1.08)" font-size="7.6" textLength="29.5" lengthAdjust="spacingAndGlyphs" fill="#1a1a1a" stroke="#1a1a1a" stroke-width="0.22">Left Arm</text>
<text transform="translate(222.6,347.8) scale(1,1.08)" font-size="7.6" textLength="34.7" lengthAdjust="spacingAndGlyphs" fill="#1a1a1a" stroke="#1a1a1a" stroke-width="0.22">Right Arm</text>
<line x1="121.7" y1="357.7" x2="257.2" y2="357.7" stroke="#444" stroke-width="0.9"/>
<rect x="121.7" y="350.0" width="29.8" height="6.3" fill="#6ab04c"/>
<rect x="227.2" y="349.3" width="30.0" height="6.5" fill="#4e2872"/>
<path d="M152.3,352.3 L162.0,357.60 L152.3,362.9 Z" fill="#6ab04c"/>
<path d="M217.3,352.3 L226.5,357.75 L217.3,363.2 Z" fill="#6ab04c"/>
<rect x="184.05" y="350.45" width="15.30" height="14.90" fill="#2b4a8b" stroke="#1e3a78" stroke-width="0.5"/>
<text transform="translate(191.70,360.40) scale(1,1.08)" font-size="7.2" text-anchor="middle" textLength="7.2" lengthAdjust="spacingAndGlyphs" fill="#e6eaf2" stroke="#e6eaf2" stroke-width="0.08">58</text>
<text transform="translate(120.8,367.8) scale(1,1.08)" font-size="7.6" textLength="29.8" lengthAdjust="spacingAndGlyphs" fill="#1a1a1a" stroke="#1a1a1a" stroke-width="0.22">78 bases</text>
<text transform="translate(228.8,368.4) scale(1,1.08)" font-size="7.6" textLength="29.6" lengthAdjust="spacingAndGlyphs" fill="#1a1a1a" stroke="#1a1a1a" stroke-width="0.22">86 bases</text>
<line x1="152.5" y1="364.0" x2="152.5" y2="373.0" stroke="#444" stroke-width="0.9"/>
<line x1="227.3" y1="364.3" x2="227.3" y2="373.0" stroke="#444" stroke-width="0.9"/>
<line x1="156" y1="374.3" x2="224" y2="374.3" stroke="#111" stroke-width="0.9"/>
<path d="M153.9,374.3 L158.8,372.0 L158.8,376.6 Z" fill="#111"/>
<path d="M226.6,374.3 L221.7,372.0 L221.7,376.6 Z" fill="#111"/>
<rect x="170.0" y="369.2" width="43.4" height="10.2" fill="#e8931c"/>
<text transform="translate(191.7,376.9) scale(1,1.08)" font-size="7.2" text-anchor="middle" textLength="29.4" lengthAdjust="spacingAndGlyphs" fill="#1a1a1a" stroke="#1a1a1a" stroke-width="0.22">535 bases</text>
<line x1="113" y1="391.4" x2="262" y2="391.4" stroke="#222" stroke-width="0.8"/>
<rect x="89.15" y="383.75" width="24.00" height="15.40" fill="#2b4a8b" stroke="#1e3a78" stroke-width="0.5"/>
<text transform="translate(101.15,393.95) scale(1,1.08)" font-size="7.2" text-anchor="middle" textLength="22.6" lengthAdjust="spacingAndGlyphs" fill="#e6eaf2" stroke="#e6eaf2" stroke-width="0.08">Exon 57</text>
<rect x="184.05" y="383.75" width="15.30" height="15.40" fill="#2b4a8b" stroke="#1e3a78" stroke-width="0.5"/>
<text transform="translate(191.70,393.95) scale(1,1.08)" font-size="7.2" text-anchor="middle" textLength="7.2" lengthAdjust="spacingAndGlyphs" fill="#e6eaf2" stroke="#e6eaf2" stroke-width="0.08">58</text>
<rect x="261.65" y="383.75" width="23.90" height="15.40" fill="#2b4a8b" stroke="#1e3a78" stroke-width="0.5"/>
<text transform="translate(273.60,393.95) scale(1,1.08)" font-size="7.2" text-anchor="middle" textLength="22.6" lengthAdjust="spacingAndGlyphs" fill="#e6eaf2" stroke="#e6eaf2" stroke-width="0.08">Exon 59</text>
<path d="M153.0,386.0 L162.4,391.30 L153.0,396.6 Z" fill="#6ab04c"/>
<path d="M217.0,386.0 L227.0,391.30 L217.0,396.6 Z" fill="#6ab04c"/>
<line x1="50.6" y1="431.2" x2="50.6" y2="527.0" stroke="#000" stroke-width="1"/>
<line x1="50.6" y1="527.0" x2="159.2" y2="527.0" stroke="#000" stroke-width="1"/>
<line x1="47.7" y1="527.00" x2="50.6" y2="527.00" stroke="#000" stroke-width="0.9"/>
<text transform="translate(44.5,529.90) scale(1,1.08)" font-size="8.2" text-anchor="end" textLength="11.6" lengthAdjust="spacingAndGlyphs" fill="#1a1a1a" stroke="#1a1a1a" stroke-width="0.22">0.0</text>
<line x1="47.7" y1="495.95" x2="50.6" y2="495.95" stroke="#000" stroke-width="0.9"/>
<text transform="translate(44.5,498.85) scale(1,1.08)" font-size="8.2" text-anchor="end" textLength="11.6" lengthAdjust="spacingAndGlyphs" fill="#1a1a1a" stroke="#1a1a1a" stroke-width="0.22">0.5</text>
<line x1="47.7" y1="464.90" x2="50.6" y2="464.90" stroke="#000" stroke-width="0.9"/>
<text transform="translate(44.5,467.80) scale(1,1.08)" font-size="8.2" text-anchor="end" textLength="11.6" lengthAdjust="spacingAndGlyphs" fill="#1a1a1a" stroke="#1a1a1a" stroke-width="0.22">1.0</text>
<line x1="47.7" y1="433.85" x2="50.6" y2="433.85" stroke="#000" stroke-width="0.9"/>
<text transform="translate(44.5,436.75) scale(1,1.08)" font-size="8.2" text-anchor="end" textLength="11.6" lengthAdjust="spacingAndGlyphs" fill="#1a1a1a" stroke="#1a1a1a" stroke-width="0.22">1.5</text>
<text transform="translate(28.0,478.6) rotate(-90) scale(1,1.08)" font-size="9.8" text-anchor="middle" textLength="65.8" lengthAdjust="spacingAndGlyphs" fill="#1a1a1a" stroke="#1a1a1a" stroke-width="0.22">Relative expression</text>
<rect x="56.9" y="465.1" width="12.70" height="61.90" fill="#8d93c1"/>
<rect x="73.0" y="467.0" width="12.70" height="60.00" fill="#f1c182"/>
<rect x="89.0" y="467.7" width="12.70" height="59.30" fill="#b2d298"/>
<rect x="108.1" y="463.3" width="12.90" height="63.70" fill="#8d93c1"/>
<rect x="124.2" y="468.0" width="13.00" height="59.00" fill="#f1c182"/>
<rect x="140.1" y="497.6" width="12.90" height="29.40" fill="#b2d298"/>
<line x1="63.2" y1="460.3" x2="63.2" y2="471.8" stroke="#1d3a7a" stroke-width="0.9"/>
<line x1="60.50" y1="460.3" x2="65.90" y2="460.3" stroke="#1d3a7a" stroke-width="0.9"/>
<line x1="60.50" y1="471.8" x2="65.90" y2="471.8" stroke="#1d3a7a" stroke-width="0.9"/>
<line x1="78.8" y1="460.2" x2="78.8" y2="473.6" stroke="#e08c10" stroke-width="0.9"/>
<line x1="75.90" y1="460.2" x2="81.70" y2="460.2" stroke="#e08c10" stroke-width="0.9"/>
<line x1="75.90" y1="473.6" x2="81.70" y2="473.6" stroke="#e08c10" stroke-width="0.9"/>
<line x1="95.2" y1="460.0" x2="95.2" y2="478.5" stroke="#5aaa3c" stroke-width="0.9"/>
<line x1="92.50" y1="460.0" x2="97.90" y2="460.0" stroke="#5aaa3c" stroke-width="0.9"/>
<line x1="92.50" y1="478.5" x2="97.90" y2="478.5" stroke="#5aaa3c" stroke-width="0.9"/>
<line x1="114.4" y1="454.5" x2="114.4" y2="472.4" stroke="#1d3a7a" stroke-width="0.9"/>
<line x1="111.40" y1="454.5" x2="117.40" y2="454.5" stroke="#1d3a7a" stroke-width="0.9"/>
<line x1="111.40" y1="472.4" x2="117.40" y2="472.4" stroke="#1d3a7a" stroke-width="0.9"/>
<line x1="130.5" y1="451.3" x2="130.5" y2="484.1" stroke="#e08c10" stroke-width="0.9"/>
<line x1="125.90" y1="451.3" x2="135.10" y2="451.3" stroke="#e08c10" stroke-width="0.9"/>
<line x1="125.90" y1="484.1" x2="135.10" y2="484.1" stroke="#e08c10" stroke-width="0.9"/>
<line x1="146.7" y1="491.4" x2="146.7" y2="504.5" stroke="#5aaa3c" stroke-width="0.9"/>
<line x1="141.80" y1="491.4" x2="151.60" y2="491.4" stroke="#5aaa3c" stroke-width="0.9"/>
<line x1="141.80" y1="504.5" x2="151.60" y2="504.5" stroke="#5aaa3c" stroke-width="0.9"/>
<circle cx="61.7" cy="457.4" r="1.55" fill="#1d3a7a" stroke="#1d3a7a" stroke-width="0.35"/>
<circle cx="58.2" cy="460.4" r="1.55" fill="#1d3a7a" stroke="#1d3a7a" stroke-width="0.35"/>
<circle cx="64.6" cy="460.4" r="1.55" fill="#1d3a7a" stroke="#1d3a7a" stroke-width="0.35"/>
<circle cx="67.9" cy="460.8" r="1.55" fill="#1d3a7a" stroke="#1d3a7a" stroke-width="0.35"/>
<circle cx="61.7" cy="463.2" r="1.55" fill="#1d3a7a" stroke="#1d3a7a" stroke-width="0.35"/>
<circle cx="64.8" cy="464.4" r="1.55" fill="#1d3a7a" stroke="#1d3a7a" stroke-width="0.35"/>
<circle cx="63.2" cy="468.3" r="1.55" fill="#1d3a7a" stroke="#1d3a7a" stroke-width="0.35"/>
<circle cx="63.2" cy="472.0" r="1.55" fill="#1d3a7a" stroke="#1d3a7a" stroke-width="0.35"/>
<circle cx="63.2" cy="477.5" r="1.55" fill="#1d3a7a" stroke="#1d3a7a" stroke-width="0.35"/>
<circle cx="74.6" cy="459.3" r="1.55" fill="#e08c10" stroke="#e08c10" stroke-width="0.35"/>
<circle cx="77.5" cy="461.5" r="1.55" fill="#e08c10" stroke="#e08c10" stroke-width="0.35"/>
<circle cx="74.6" cy="464.1" r="1.55" fill="#e08c10" stroke="#e08c10" stroke-width="0.35"/>
<circle cx="77.5" cy="466.7" r="1.55" fill="#e08c10" stroke="#e08c10" stroke-width="0.35"/>
<circle cx="80.5" cy="465.7" r="1.55" fill="#e08c10" stroke="#e08c10" stroke-width="0.35"/>
<circle cx="83.7" cy="463.8" r="1.55" fill="#e08c10" stroke="#e08c10" stroke-width="0.35"/>
<circle cx="78.8" cy="474.0" r="1.55" fill="#e08c10" stroke="#e08c10" stroke-width="0.35"/>
<circle cx="78.8" cy="479.1" r="1.55" fill="#e08c10" stroke="#e08c10" stroke-width="0.35"/>
<circle cx="95.2" cy="454.0" r="1.55" fill="#5aaa3c" stroke="#5aaa3c" stroke-width="0.35"/>
<circle cx="97.5" cy="461.5" r="1.55" fill="#5aaa3c" stroke="#5aaa3c" stroke-width="0.35"/>
<circle cx="92.8" cy="463.0" r="1.55" fill="#5aaa3c" stroke="#5aaa3c" stroke-width="0.35"/>
<circle cx="90.5" cy="468.5" r="1.55" fill="#5aaa3c" stroke="#5aaa3c" stroke-width="0.35"/>
<circle cx="95.2" cy="469.0" r="1.55" fill="#5aaa3c" stroke="#5aaa3c" stroke-width="0.35"/>
<circle cx="100.0" cy="468.5" r="1.55" fill="#5aaa3c" stroke="#5aaa3c" stroke-width="0.35"/>
<circle cx="95.2" cy="476.2" r="1.55" fill="#5aaa3c" stroke="#5aaa3c" stroke-width="0.35"/>
<circle cx="97.5" cy="480.0" r="1.55" fill="#5aaa3c" stroke="#5aaa3c" stroke-width="0.35"/>
<circle cx="92.8" cy="482.2" r="1.55" fill="#5aaa3c" stroke="#5aaa3c" stroke-width="0.35"/>
<circle cx="114.4" cy="442.7" r="1.55" fill="#1d3a7a" stroke="#1d3a7a" stroke-width="0.35"/>
<circle cx="119.1" cy="460.1" r="1.55" fill="#1d3a7a" stroke="#1d3a7a" stroke-width="0.35"/>
<circle cx="115.8" cy="462.1" r="1.55" fill="#1d3a7a" stroke="#1d3a7a" stroke-width="0.35"/>
<circle cx="112.8" cy="463.3" r="1.55" fill="#1d3a7a" stroke="#1d3a7a" stroke-width="0.35"/>
<circle cx="109.6" cy="464.5" r="1.55" fill="#1d3a7a" stroke="#1d3a7a" stroke-width="0.35"/>
<circle cx="115.8" cy="464.8" r="1.55" fill="#1d3a7a" stroke="#1d3a7a" stroke-width="0.35"/>
<circle cx="112.8" cy="467.4" r="1.55" fill="#1d3a7a" stroke="#1d3a7a" stroke-width="0.35"/>
<circle cx="119.1" cy="468.0" r="1.55" fill="#1d3a7a" stroke="#1d3a7a" stroke-width="0.35"/>
<circle cx="114.4" cy="476.6" r="1.55" fill="#1d3a7a" stroke="#1d3a7a" stroke-width="0.35"/>
<circle cx="125.8" cy="451.3" r="1.55" fill="#e08c10" stroke="#e08c10" stroke-width="0.35"/>
<circle cx="135.2" cy="451.3" r="1.55" fill="#e08c10" stroke="#e08c10" stroke-width="0.35"/>
<circle cx="130.5" cy="458.6" r="1.55" fill="#e08c10" stroke="#e08c10" stroke-width="0.35"/>
<circle cx="125.8" cy="466.0" r="1.55" fill="#e08c10" stroke="#e08c10" stroke-width="0.35"/>
<circle cx="125.8" cy="469.8" r="1.55" fill="#e08c10" stroke="#e08c10" stroke-width="0.35"/>
<circle cx="135.2" cy="468.4" r="1.55" fill="#e08c10" stroke="#e08c10" stroke-width="0.35"/>
<circle cx="130.5" cy="474.7" r="1.55" fill="#e08c10" stroke="#e08c10" stroke-width="0.35"/>
<circle cx="130.5" cy="502.1" r="1.55" fill="#e08c10" stroke="#e08c10" stroke-width="0.35"/>
<circle cx="141.8" cy="490.6" r="1.55" fill="#5aaa3c" stroke="#5aaa3c" stroke-width="0.35"/>
<circle cx="144.6" cy="491.4" r="1.55" fill="#5aaa3c" stroke="#5aaa3c" stroke-width="0.35"/>
<circle cx="151.2" cy="490.6" r="1.55" fill="#5aaa3c" stroke="#5aaa3c" stroke-width="0.35"/>
<circle cx="145.0" cy="496.3" r="1.55" fill="#5aaa3c" stroke="#5aaa3c" stroke-width="0.35"/>
<circle cx="148.3" cy="496.3" r="1.55" fill="#5aaa3c" stroke="#5aaa3c" stroke-width="0.35"/>
<circle cx="143.4" cy="507.0" r="1.55" fill="#5aaa3c" stroke="#5aaa3c" stroke-width="0.35"/>
<circle cx="146.3" cy="504.8" r="1.55" fill="#5aaa3c" stroke="#5aaa3c" stroke-width="0.35"/>
<circle cx="149.5" cy="506.1" r="1.55" fill="#5aaa3c" stroke="#5aaa3c" stroke-width="0.35"/>
<line x1="79.2" y1="527.0" x2="79.2" y2="529.0" stroke="#000" stroke-width="0.9"/>
<line x1="130.4" y1="527.0" x2="130.4" y2="529.0" stroke="#000" stroke-width="0.9"/>
<circle cx="146.9" cy="468.00" r="0.85" fill="#2a2a2a"/>
<circle cx="146.9" cy="471.53" r="0.85" fill="#2a2a2a"/>
<circle cx="146.9" cy="475.06" r="0.85" fill="#2a2a2a"/>
<circle cx="146.9" cy="478.59" r="0.85" fill="#2a2a2a"/>
<text transform="translate(79.4,539.9) scale(1,1.08)" font-size="7.9" text-anchor="middle" textLength="17.4" lengthAdjust="spacingAndGlyphs" fill="#1a1a1a" stroke="#1a1a1a" stroke-width="0.22" font-style="italic">Ubr5</text>
<text transform="translate(130.3,540.4) scale(1,1.08)" font-size="7.9" text-anchor="middle" textLength="41.4" lengthAdjust="spacingAndGlyphs" fill="#1a1a1a" stroke="#1a1a1a" stroke-width="0.22" font-style="italic">Ubr5 HECT</text>
<rect x="168.9" y="463.8" width="13.1" height="6.7" fill="#8d93c1"/>
<text transform="translate(185.3,470.10) scale(1,1.08)" font-size="8.0" textLength="16.4" lengthAdjust="spacingAndGlyphs" fill="#1a1a1a" stroke="#1a1a1a" stroke-width="0.22" font-style="italic">Ubr5</text>
<text transform="translate(202.2,466.40) scale(1,1.08)" font-size="5.2" textLength="8.5" lengthAdjust="spacingAndGlyphs" fill="#1a1a1a" stroke="#1a1a1a" stroke-width="0.15" font-style="italic">WT</text>
<rect x="168.9" y="476.5" width="13.1" height="6.7" fill="#f1c182"/>
<text transform="translate(185.3,482.80) scale(1,1.08)" font-size="8.0" textLength="16.4" lengthAdjust="spacingAndGlyphs" fill="#1a1a1a" stroke="#1a1a1a" stroke-width="0.22" font-style="italic">Ubr5</text>
<text transform="translate(202.2,479.10) scale(1,1.08)" font-size="5.2" textLength="27.5" lengthAdjust="spacingAndGlyphs" fill="#1a1a1a" stroke="#1a1a1a" stroke-width="0.15" font-style="italic">ΔHECT/WT</text>
<rect x="168.9" y="488.5" width="13.1" height="6.7" fill="#b2d298"/>
<text transform="translate(185.3,494.80) scale(1,1.08)" font-size="8.0" textLength="16.4" lengthAdjust="spacingAndGlyphs" fill="#1a1a1a" stroke="#1a1a1a" stroke-width="0.22" font-style="italic">Ubr5</text>
<text transform="translate(202.2,491.10) scale(1,1.08)" font-size="5.2" textLength="16.5" lengthAdjust="spacingAndGlyphs" fill="#1a1a1a" stroke="#1a1a1a" stroke-width="0.15" font-style="italic">ΔHECT</text>
<text transform="translate(19.5,575.2) scale(1,1.08)" font-size="7.9" textLength="58.6" lengthAdjust="spacingAndGlyphs" fill="#1a1a1a" stroke="#1a1a1a" stroke-width="0.22"><tspan font-style="italic">Ubr5</tspan> Translation</text>
<text transform="translate(19.5,585.8) scale(1,1.08)" font-size="7.9" textLength="33.2" lengthAdjust="spacingAndGlyphs" fill="#1a1a1a" stroke="#1a1a1a" stroke-width="0.22" font-style="italic">Ubr5 WT</text>
<text transform="translate(19.5,594.9) scale(1,1.08)" font-size="7.9" textLength="40.8" lengthAdjust="spacingAndGlyphs" fill="#1a1a1a" stroke="#1a1a1a" stroke-width="0.22" font-style="italic">Ubr5 HECT</text>
<rect x="84.8" y="567.5" width="63.5" height="10.2" fill="#a9d18e"/>
<rect x="148.3" y="567.5" width="63.2" height="10.2" fill="#808080"/>
<rect x="211.5" y="567.5" width="61.2" height="10.2" fill="#d5857d"/>
<text transform="translate(109.2,575.6) scale(1,1.08)" font-size="7.8" text-anchor="middle" textLength="28.4" lengthAdjust="spacingAndGlyphs" fill="#6aaa48" stroke="#6aaa48" stroke-width="0.15">Exon 57</text>
<text transform="translate(149.4,575.6) scale(1,1.08)" font-size="7.8" textLength="29.4" lengthAdjust="spacingAndGlyphs" fill="#1a1a1a" stroke="#1a1a1a" stroke-width="0.22">Exon 58</text>
<text transform="translate(212.5,575.6) scale(1,1.08)" font-size="7.8" textLength="29.9" lengthAdjust="spacingAndGlyphs" fill="#b01a35" stroke="#b01a35" stroke-width="0.15">Exon 59</text>
<text transform="translate(85.7,585.8) scale(1,1.08)" font-size="7.8" textLength="62.6" lengthAdjust="spacingAndGlyphs" fill="#6aaa48" stroke="#6aaa48" stroke-width="0.15">...SFTSFNDESG</text>
<text transform="translate(148.8,585.8) scale(1,1.08)" font-size="7.8" textLength="62.4" lengthAdjust="spacingAndGlyphs" fill="#111" stroke="#111" stroke-width="0.22">ENAEK...ERQDL</text>
<text transform="translate(212.0,585.8) scale(1,1.08)" font-size="7.8" textLength="53.4" lengthAdjust="spacingAndGlyphs" fill="#b0103a" stroke="#b0103a" stroke-width="0.15">VYFWTSSPS...</text>
<text transform="translate(85.7,595.4) scale(1,1.08)" font-size="7.8" textLength="62.6" lengthAdjust="spacingAndGlyphs" fill="#6aaa48" stroke="#6aaa48" stroke-width="0.15">...SFTSFNDESG</text>
<line x1="149.0" y1="595.2" x2="211.2" y2="595.2" stroke="#555" stroke-width="0.8"/>
<text transform="translate(212.0,595.4) scale(1,1.08)" font-size="7.8" textLength="20.4" lengthAdjust="spacingAndGlyphs" fill="#b0103a" stroke="#b0103a" stroke-width="0.15">LLLDI</text>
<text transform="translate(234.6,595.4) scale(1,1.08)" font-size="7.6" textLength="28.0" lengthAdjust="spacingAndGlyphs" fill="#111" stroke="#111" stroke-width="0.1" font-weight="bold">(STOP)</text>
<rect x="0.5" y="0.5" width="519" height="611" fill="none" stroke="#000" stroke-width="1"/>
</svg></body></html>
